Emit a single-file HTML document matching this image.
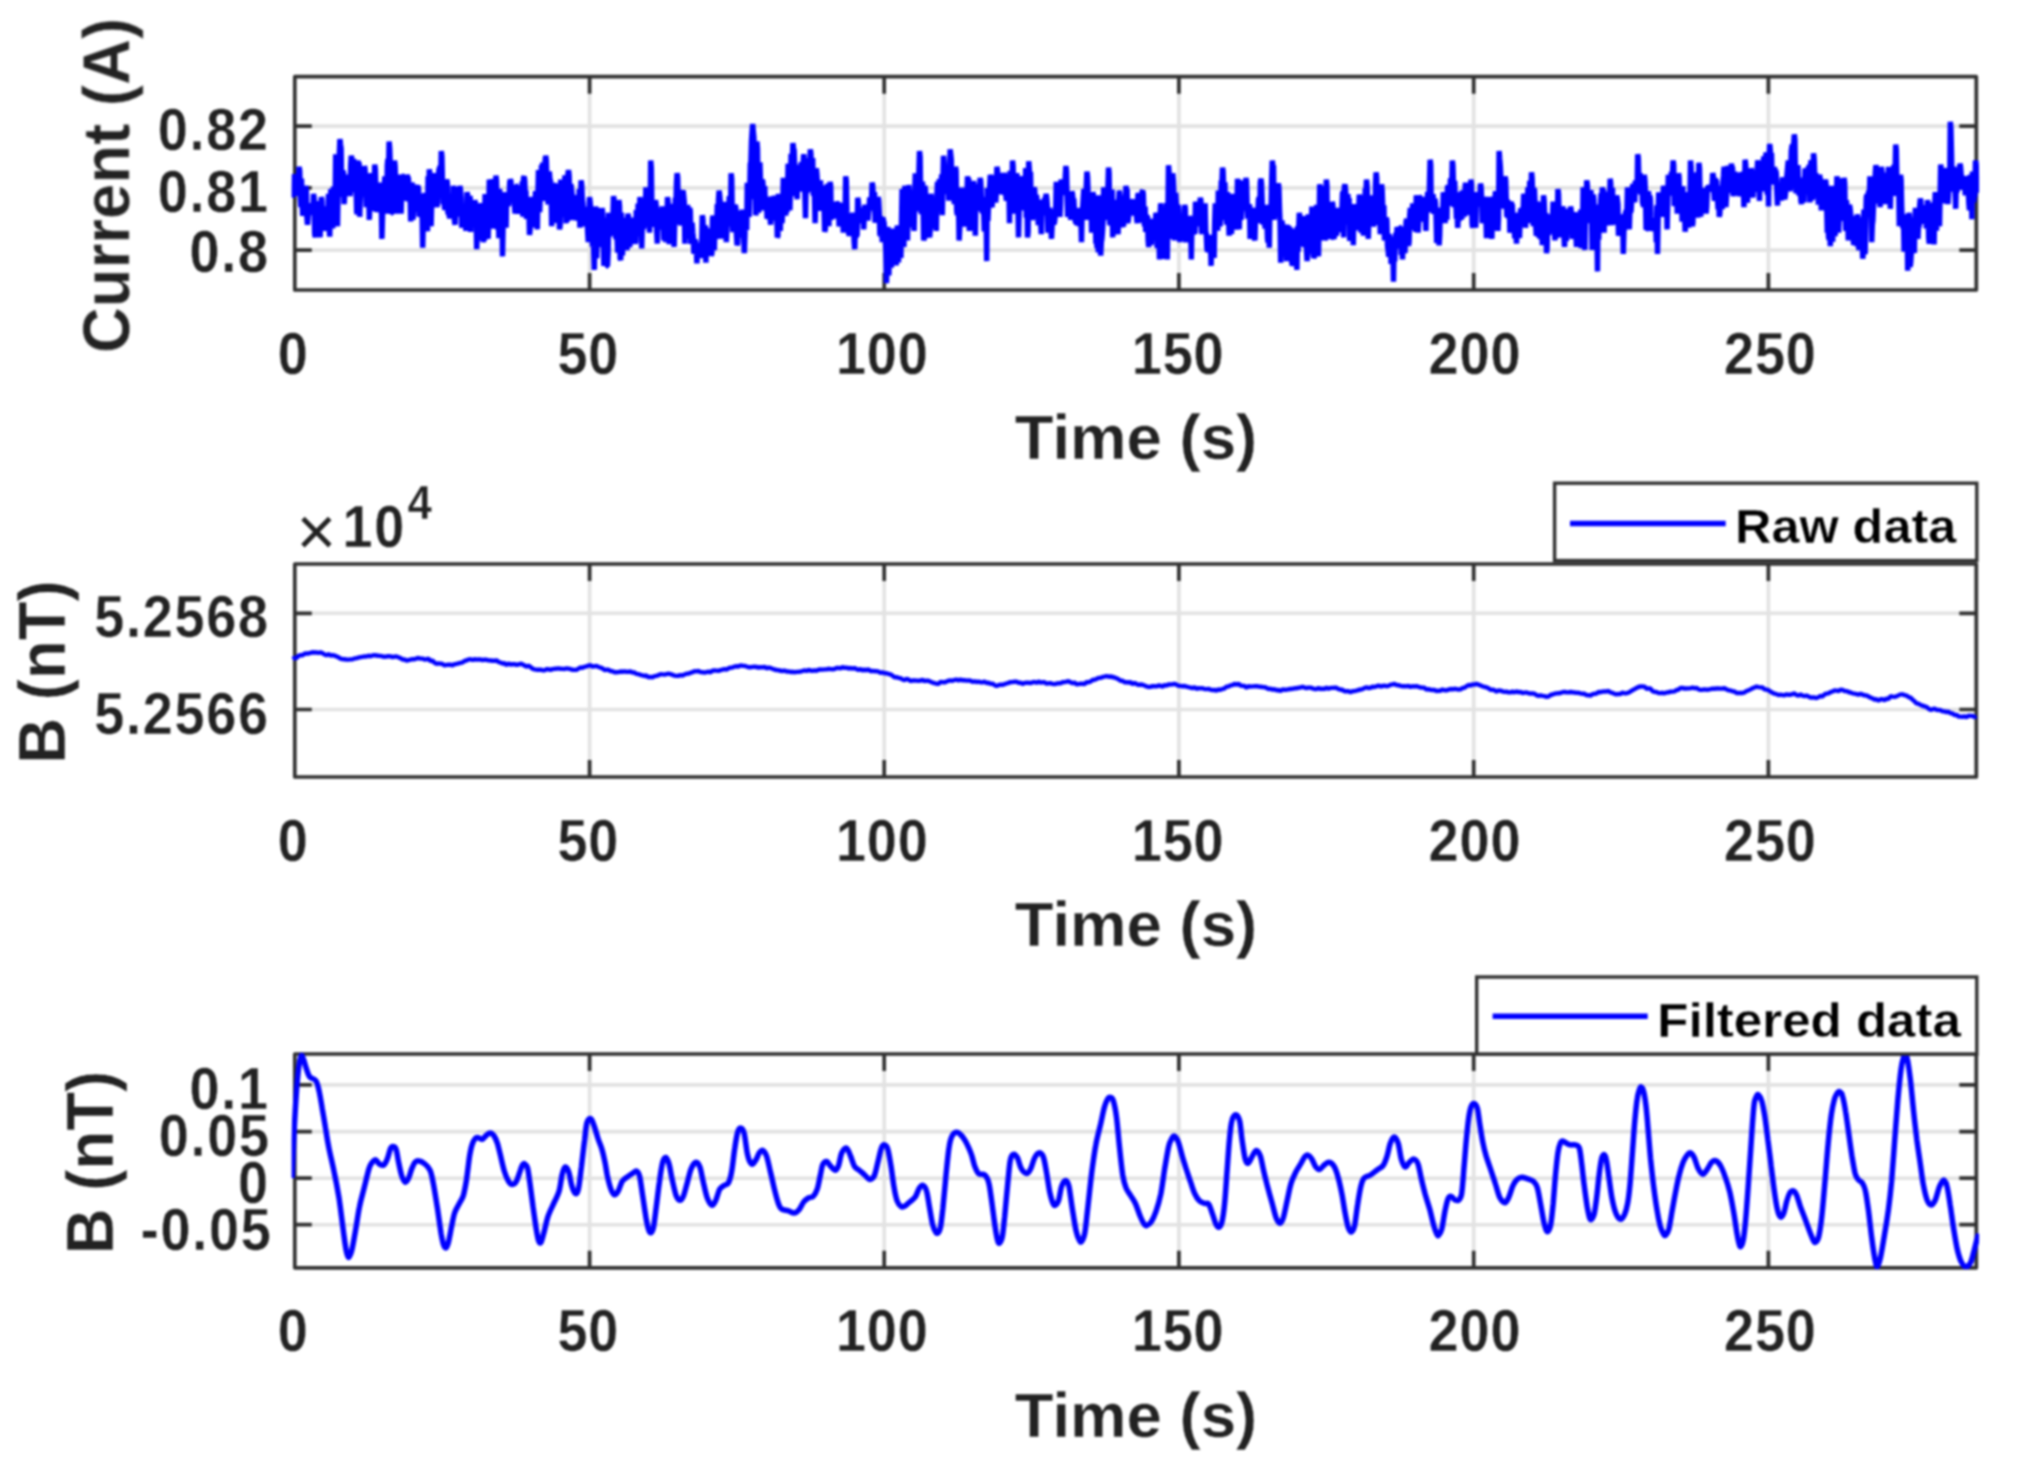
<!DOCTYPE html>
<html lang="en"><head><meta charset="utf-8"><title>Current and magnetic field plots</title>
<style>html,body{margin:0;padding:0;background:#fff}body{width:2019px;height:1470px;overflow:hidden}svg{display:block}</style>
</head><body>
<svg width="2019" height="1470" viewBox="0 0 2019 1470">
<rect width="2019" height="1470" fill="#fff"/>
<defs><filter id="soft" color-interpolation-filters="sRGB" x="0" y="0" width="2019" height="1470" filterUnits="userSpaceOnUse"><feGaussianBlur stdDeviation="1.1"/></filter>
<clipPath id="c0"><rect x="291.6" y="75.2" width="1687.5" height="216.3"/></clipPath>
<clipPath id="c1"><rect x="291.6" y="562.5" width="1687.5" height="216.0"/></clipPath>
<clipPath id="c2"><rect x="291.6" y="1052.5" width="1687.5" height="216.8"/></clipPath>
</defs>
<g filter="url(#soft)">
<g>
<path d="M589.6 76.7V290.0M884.2 76.7V290.0M1178.9 76.7V290.0M1473.7 76.7V290.0M1768.4 76.7V290.0M294.8 126.1H1976.3M294.8 187.9H1976.3M294.8 250.1H1976.3" stroke="#e2e2e2" stroke-width="3.6" fill="none"/>
<path d="M294.8 76.7H1976.3V290.0H294.8ZM589.6 290.0v-17.0M589.6 76.7v17.0M884.2 290.0v-17.0M884.2 76.7v17.0M1178.9 290.0v-17.0M1178.9 76.7v17.0M1473.7 290.0v-17.0M1473.7 76.7v17.0M1768.4 290.0v-17.0M1768.4 76.7v17.0M294.8 126.1h17.0M1976.3 126.1h-17.0M294.8 187.9h17.0M1976.3 187.9h-17.0M294.8 250.1h17.0M1976.3 250.1h-17.0" stroke="#303030" stroke-width="3.7" fill="none" stroke-linejoin="round"/>
<path clip-path="url(#c0)" d="M292.5 197.6L293.1 193.1L293.7 189.2L294.3 174.1L294.9 188.7L295.5 188.3L296.1 184.8L296.7 193.7L297.3 195.5L297.9 177.4L298.5 176.0L299.1 166.8L299.7 170.9L300.3 197.6L300.9 207.2L301.5 178.5L302.1 201.4L302.7 215.8L303.3 201.1L303.9 193.0L304.5 213.4L305.1 202.0L305.7 185.9L306.3 189.7L306.9 217.0L307.5 224.7L308.1 217.4L308.7 203.1L309.3 207.0L309.9 203.5L310.5 208.1L311.1 206.0L311.7 209.9L312.3 208.8L312.9 215.1L313.5 193.8L314.1 198.1L314.7 233.8L315.3 237.4L315.9 229.5L316.5 215.3L317.1 201.2L317.7 212.1L318.3 217.0L318.9 229.5L319.5 206.1L320.1 237.4L320.7 218.5L321.3 197.0L321.9 201.0L322.5 221.2L323.1 225.5L323.7 230.7L324.3 224.6L324.9 221.8L325.5 217.8L326.1 230.7L326.7 206.3L327.3 211.4L327.9 218.8L328.5 193.8L329.1 228.1L329.7 236.6L330.3 210.8L330.9 189.0L331.5 193.8L332.1 198.1L332.7 228.5L333.3 186.9L333.9 188.7L334.5 204.2L335.1 203.5L335.7 154.2L336.3 161.4L336.9 209.8L337.5 226.3L338.1 188.7L338.7 162.1L339.3 155.2L339.9 139.1L340.5 144.3L341.1 148.9L341.7 191.4L342.3 196.8L342.9 170.6L343.5 173.5L344.1 204.1L344.7 193.9L345.3 174.8L345.9 177.7L346.5 181.6L347.1 182.3L347.7 196.2L348.3 175.1L348.9 181.2L349.5 183.2L350.1 196.2L350.7 165.1L351.3 155.7L351.9 159.8L352.5 189.7L353.1 181.8L353.7 159.0L354.3 169.3L354.9 192.2L355.5 185.8L356.1 184.6L356.7 212.0L357.3 214.0L357.9 160.5L358.5 166.1L359.1 162.3L359.7 216.8L360.3 195.5L360.9 185.1L361.5 195.1L362.1 195.3L362.7 187.1L363.3 195.5L363.9 189.8L364.5 166.0L365.1 170.2L365.7 191.2L366.3 207.2L366.9 180.1L367.5 190.3L368.1 187.0L368.7 191.0L369.3 219.9L369.9 203.8L370.5 173.2L371.1 177.9L371.7 204.8L372.3 181.0L372.9 186.3L373.5 210.7L374.1 203.9L374.7 164.5L375.3 169.2L375.9 190.5L376.5 212.0L377.1 209.1L377.7 207.8L378.3 206.7L378.9 186.1L379.5 193.9L380.1 182.7L380.7 188.3L381.3 200.1L381.9 238.9L382.5 216.3L383.1 194.1L383.7 191.4L384.3 185.9L384.9 176.3L385.5 180.1L386.1 197.8L386.7 213.6L387.3 165.4L387.9 159.1L388.5 173.9L389.1 141.5L389.7 148.7L390.3 166.7L390.9 213.6L391.5 212.6L392.1 212.7L392.7 212.7L393.3 191.0L393.9 201.6L394.5 160.5L395.1 165.8L395.7 185.6L396.3 213.6L396.9 181.4L397.5 199.2L398.1 197.0L398.7 196.3L399.3 174.8L399.9 178.6L400.5 177.8L401.1 213.6L401.7 192.4L402.3 193.2L402.9 190.1L403.5 176.0L404.1 175.8L404.7 186.9L405.3 200.2L405.9 199.3L406.5 181.3L407.1 174.8L407.7 177.2L408.3 177.3L408.9 186.8L409.5 193.4L410.1 192.7L410.7 221.5L411.3 201.1L411.9 182.7L412.5 186.6L413.1 219.7L413.7 188.2L414.3 195.7L414.9 211.9L415.5 189.5L416.1 190.7L416.7 187.6L417.3 186.8L417.9 185.9L418.5 188.8L419.1 216.4L419.7 215.2L420.3 212.5L420.9 193.5L421.5 210.7L422.1 212.4L422.7 247.7L423.3 221.2L423.9 200.1L424.5 204.9L425.1 193.0L425.7 199.7L426.3 214.0L426.9 214.5L427.5 231.3L428.1 176.3L428.7 200.6L429.3 169.2L429.9 174.9L430.5 205.4L431.1 226.3L431.7 201.8L432.3 202.2L432.9 182.2L433.5 183.1L434.1 188.4L434.7 183.7L435.3 173.2L435.9 176.6L436.5 202.7L437.1 207.2L437.7 188.5L438.3 182.1L438.9 169.9L439.5 168.2L440.1 166.3L440.7 181.6L441.3 151.0L441.9 156.3L442.5 184.9L443.1 204.1L443.7 183.1L444.3 205.6L444.9 210.0L445.5 187.0L446.1 191.8L446.7 179.5L447.3 182.9L447.9 213.2L448.5 213.6L449.1 214.4L449.7 218.4L450.3 200.0L450.9 200.1L451.5 203.3L452.1 215.3L452.7 205.6L453.3 185.9L453.9 189.7L454.5 221.0L455.1 224.7L455.7 197.9L456.3 186.7L456.9 216.3L457.5 213.2L458.1 196.3L458.7 199.0L459.3 200.1L459.9 185.9L460.5 190.1L461.1 198.0L461.7 227.8L462.3 216.3L462.9 208.8L463.5 215.5L464.1 215.3L464.7 211.1L465.3 211.0L465.9 231.0L466.5 212.3L467.1 192.2L467.7 196.1L468.3 220.6L468.9 217.4L469.5 207.0L470.1 195.7L470.7 232.0L471.3 205.8L471.9 204.9L472.5 219.8L473.1 221.9L473.7 226.1L474.3 220.3L474.9 200.1L475.5 205.0L476.1 213.3L476.7 249.2L477.3 231.8L477.9 240.2L478.5 223.3L479.1 219.6L479.7 219.9L480.3 203.3L480.9 211.0L481.5 203.3L482.1 207.2L482.7 220.3L483.3 242.1L483.9 238.8L484.5 240.2L485.1 194.1L485.7 213.9L486.3 199.5L486.9 219.7L487.5 216.0L488.1 238.9L488.7 218.1L489.3 179.5L489.9 185.5L490.5 179.7L491.1 181.3L491.7 188.8L492.3 195.5L492.9 187.5L493.5 228.6L494.1 205.1L494.7 224.3L495.3 200.8L495.9 175.6L496.5 180.9L497.1 213.4L497.7 229.4L498.3 213.5L498.9 238.2L499.5 189.1L500.1 195.8L500.7 217.4L501.3 214.6L501.9 194.4L502.5 256.4L503.1 226.1L503.7 192.2L504.3 198.6L504.9 200.3L505.5 204.6L506.1 227.8L506.7 192.8L507.3 196.8L507.9 205.0L508.5 205.7L509.1 200.2L509.7 182.5L510.3 179.5L510.9 181.2L511.5 190.7L512.1 196.2L512.7 191.4L513.3 187.5L513.9 191.8L514.5 205.0L515.1 213.6L515.7 185.6L516.3 185.9L516.9 188.6L517.5 205.9L518.1 213.8L518.7 194.7L519.3 199.6L519.9 203.3L520.5 211.0L521.1 210.3L521.7 190.7L522.3 181.5L522.9 216.8L523.5 177.9L524.1 176.3L524.7 180.4L525.3 195.0L525.9 190.5L526.5 219.0L527.1 210.7L527.7 203.1L528.3 215.0L528.9 210.5L529.5 235.0L530.1 229.8L530.7 197.0L531.3 200.8L531.9 220.0L532.5 227.3L533.1 221.0L533.7 211.7L534.3 199.9L534.9 210.2L535.5 191.1L536.1 212.5L536.7 205.7L537.3 229.4L537.9 193.9L538.5 170.0L539.1 175.9L539.7 212.1L540.3 193.4L540.9 189.0L541.5 165.0L542.1 184.2L542.7 162.6L543.3 197.7L543.9 182.2L544.5 200.9L545.1 161.1L545.7 155.7L546.3 160.3L546.9 181.0L547.5 190.4L548.1 204.3L548.7 200.7L549.3 171.5L549.9 179.3L550.5 180.9L551.1 185.9L551.7 226.3L552.3 184.1L552.9 185.9L553.5 189.9L554.1 210.7L554.7 202.4L555.3 222.9L555.9 184.9L556.5 184.2L557.1 205.3L557.7 201.4L558.3 191.0L558.9 213.3L559.5 229.4L560.1 225.7L560.7 179.5L561.3 184.5L561.9 206.4L562.5 203.9L563.1 216.9L563.7 196.3L564.3 205.2L564.9 175.3L565.5 205.6L566.1 223.3L566.7 201.3L567.3 221.5L567.9 174.4L568.5 170.0L569.1 175.2L569.7 198.6L570.3 205.6L570.9 184.1L571.5 189.1L572.1 194.2L572.7 220.0L573.3 206.9L573.9 219.9L574.5 209.6L575.1 195.4L575.7 197.8L576.3 195.5L576.9 198.6L577.5 220.7L578.1 210.9L578.7 202.3L579.3 189.1L579.9 227.8L580.5 204.4L581.1 180.3L581.7 185.1L582.3 199.4L582.9 203.8L583.5 219.1L584.1 214.0L584.7 226.3L585.3 211.0L585.9 207.0L586.5 219.4L587.1 218.8L587.7 232.5L588.3 242.1L588.9 219.5L589.5 197.0L590.1 201.5L590.7 209.2L591.3 221.0L591.9 221.4L592.5 246.8L593.1 225.6L593.7 249.4L594.3 269.9L594.9 232.0L595.5 206.5L596.1 212.8L596.7 258.4L597.3 207.8L597.9 233.3L598.5 239.8L599.1 235.6L599.7 211.1L600.3 244.8L600.9 208.7L601.5 247.3L602.1 208.0L602.7 213.8L603.3 237.5L603.9 265.9L604.5 231.1L605.1 217.6L605.7 222.3L606.3 226.7L606.9 265.9L607.5 265.9L608.1 252.7L608.7 212.7L609.3 222.5L609.9 234.8L610.5 234.6L611.1 218.6L611.7 217.7L612.3 217.6L612.9 218.0L613.5 196.2L614.1 199.8L614.7 203.2L615.3 232.6L615.9 238.9L616.5 212.5L617.1 237.6L617.7 252.6L618.3 236.8L618.9 200.1L619.5 206.1L620.1 258.3L620.7 260.3L621.3 212.7L621.9 233.9L622.5 255.5L623.1 227.2L623.7 237.6L624.3 219.4L624.9 218.8L625.5 235.7L626.1 230.4L626.7 250.0L627.3 247.0L627.9 213.6L628.5 217.2L629.1 231.1L629.7 247.2L630.3 231.7L630.9 227.1L631.5 234.3L632.1 244.2L632.7 228.8L633.3 228.0L633.9 217.6L634.5 220.0L635.1 242.8L635.7 242.1L636.3 210.0L636.9 225.9L637.5 232.6L638.1 203.5L638.7 212.5L639.3 236.3L639.9 197.0L640.5 202.1L641.1 223.5L641.7 248.5L642.3 223.8L642.9 219.4L643.5 229.2L644.1 207.5L644.7 223.1L645.3 220.8L645.9 187.4L646.5 191.0L647.1 194.4L647.7 189.0L648.3 226.9L648.9 214.5L649.5 232.6L650.1 220.1L650.7 160.5L651.3 167.7L651.9 209.2L652.5 207.8L653.1 226.3L653.7 202.5L654.3 218.0L654.9 226.7L655.5 200.1L656.1 204.5L656.7 229.9L657.3 243.7L657.9 223.8L658.5 223.9L659.1 218.0L659.7 229.4L660.3 223.9L660.9 208.4L661.5 219.1L662.1 206.5L662.7 209.9L663.3 214.9L663.9 240.5L664.5 231.2L665.1 231.4L665.7 242.1L666.3 221.1L666.9 229.6L667.5 197.0L668.1 201.6L668.7 240.1L669.3 243.7L669.9 235.4L670.5 217.7L671.1 232.8L671.7 214.9L672.3 208.0L672.9 211.9L673.5 203.9L674.1 246.9L674.7 221.2L675.3 197.9L675.9 207.9L676.5 183.1L677.1 173.2L677.7 177.5L678.3 206.8L678.9 216.8L679.5 224.2L680.1 198.9L680.7 225.5L681.3 213.0L681.9 220.7L682.5 192.1L683.1 190.6L683.7 195.9L684.3 202.5L684.9 243.7L685.5 214.4L686.1 208.2L686.7 221.4L687.3 205.6L687.9 207.0L688.5 238.9L689.1 216.5L689.7 208.0L690.3 211.1L690.9 243.9L691.5 238.9L692.1 222.7L692.7 232.2L693.3 238.1L693.9 253.7L694.5 252.0L695.1 239.7L695.7 242.1L696.3 246.9L696.9 263.5L697.5 248.7L698.1 255.8L698.7 249.0L699.3 253.6L699.9 243.2L700.5 248.4L701.1 258.0L701.7 245.4L702.3 215.2L702.9 219.5L703.5 234.1L704.1 236.6L704.7 246.2L705.3 225.3L705.9 262.7L706.5 229.0L707.1 230.2L707.7 233.5L708.3 250.7L708.9 246.3L709.5 241.9L710.1 241.6L710.7 249.4L711.3 255.8L711.9 253.2L712.5 218.5L713.1 216.0L713.7 219.7L714.3 250.3L714.9 226.1L715.5 222.1L716.1 231.0L716.7 227.8L717.3 204.1L717.9 238.9L718.5 199.8L719.1 190.6L719.7 195.4L720.3 202.4L720.9 211.7L721.5 238.7L722.1 220.0L722.7 209.2L723.3 214.1L723.9 231.0L724.5 206.5L725.1 210.0L725.7 201.7L726.3 242.1L726.9 228.1L727.5 213.5L728.1 204.6L728.7 212.8L729.3 196.2L729.9 226.3L730.5 215.3L731.1 173.2L731.7 178.5L732.3 216.1L732.9 232.1L733.5 223.6L734.1 225.0L734.7 206.2L735.3 204.9L735.9 208.9L736.5 235.6L737.1 245.3L737.7 242.7L738.3 220.5L738.9 237.6L739.5 210.6L740.1 221.4L740.7 235.2L741.3 235.4L741.9 230.7L742.5 209.6L743.1 214.0L743.7 236.1L744.3 253.2L744.9 235.6L745.5 213.3L746.1 226.3L746.7 229.9L747.3 182.7L747.9 187.0L748.5 188.5L749.1 217.0L749.7 193.1L750.3 163.9L750.9 162.2L751.5 141.2L752.1 131.7L752.7 124.0L753.3 131.6L753.9 137.8L754.5 199.3L755.1 152.9L755.7 215.2L756.3 211.6L756.9 141.5L757.5 148.8L758.1 196.5L758.7 212.8L759.3 177.1L759.9 162.4L760.5 181.3L761.1 184.7L761.7 199.4L762.3 179.5L762.9 182.6L763.5 194.1L764.1 210.4L764.7 186.0L765.3 203.4L765.9 208.3L766.5 198.9L767.1 218.6L767.7 217.4L768.3 214.6L768.9 197.0L769.5 199.7L770.1 218.3L770.7 224.7L771.3 214.0L771.9 196.4L772.5 208.0L773.1 203.7L773.7 199.3L774.3 217.8L774.9 195.5L775.5 220.6L776.1 207.9L776.7 198.9L777.3 237.4L777.9 236.1L778.5 193.8L779.1 198.1L779.7 225.0L780.3 230.9L780.9 199.8L781.5 200.6L782.1 223.1L782.7 208.7L783.3 177.9L783.9 182.4L784.5 206.5L785.1 206.9L785.7 215.5L786.3 203.2L786.9 212.3L787.5 197.9L788.1 163.7L788.7 168.3L789.3 194.5L789.9 210.4L790.5 184.5L791.1 153.8L791.7 196.2L792.3 163.5L792.9 143.1L793.5 148.4L794.1 150.1L794.7 168.1L795.3 169.2L795.9 175.1L796.5 180.9L797.1 199.3L797.7 167.1L798.3 166.8L798.9 170.1L799.5 180.2L800.1 181.8L800.7 174.3L801.3 162.1L801.9 191.6L802.5 175.0L803.1 163.9L803.7 154.2L804.3 160.6L804.9 194.8L805.5 218.3L806.1 182.3L806.7 192.5L807.3 190.2L807.9 158.3L808.5 168.2L809.1 163.0L809.7 172.4L810.3 149.4L810.9 153.6L811.5 187.0L812.1 191.4L812.7 158.0L813.3 195.6L813.9 189.0L814.5 195.3L815.1 223.1L815.7 195.1L816.3 168.4L816.9 173.9L817.5 183.5L818.1 199.3L818.7 200.4L819.3 210.8L819.9 202.2L820.5 180.4L821.1 210.2L821.7 195.4L822.3 187.1L822.9 185.9L823.5 190.5L824.1 208.9L824.7 231.8L825.3 229.1L825.9 206.0L826.5 197.9L827.1 195.1L827.7 183.8L828.3 188.1L828.9 226.3L829.5 197.1L830.1 181.9L830.7 186.3L831.3 219.9L831.9 203.5L832.5 206.2L833.1 212.3L833.7 201.9L834.3 205.0L834.9 218.5L835.5 214.6L836.1 204.0L836.7 202.7L837.3 203.3L837.9 205.6L838.5 205.0L839.1 226.3L839.7 221.7L840.3 218.9L840.9 205.0L841.5 204.9L842.1 207.6L842.7 213.2L843.3 232.6L843.9 206.8L844.5 223.1L845.1 213.2L845.7 176.3L846.3 181.0L846.9 211.4L847.5 218.2L848.1 223.2L848.7 233.4L849.3 235.6L849.9 231.7L850.5 218.2L851.1 230.9L851.7 221.8L852.3 217.6L852.9 212.8L853.5 216.4L854.1 241.1L854.7 249.2L855.3 227.3L855.9 230.1L856.5 235.8L857.1 235.5L857.7 197.7L858.3 201.5L858.9 213.7L859.5 216.6L860.1 207.7L860.7 214.6L861.3 223.1L861.9 219.3L862.5 220.6L863.1 211.7L863.7 229.4L864.3 213.9L864.9 204.9L865.5 207.3L866.1 212.9L866.7 217.4L867.3 212.4L867.9 220.6L868.5 212.9L869.1 209.0L869.7 197.5L870.3 204.3L870.9 208.2L871.5 202.6L872.1 182.7L872.7 185.5L873.3 198.4L873.9 210.4L874.5 192.0L875.1 222.8L875.7 210.4L876.3 212.2L876.9 208.1L877.5 213.4L878.1 197.0L878.7 200.8L879.3 213.2L879.9 235.8L880.5 216.2L881.1 236.8L881.7 222.6L882.3 242.1L882.9 217.4L883.5 220.7L884.1 222.9L884.7 233.2L885.3 236.1L885.9 253.0L886.5 283.3L887.1 251.7L887.7 227.1L888.3 232.7L888.9 275.5L889.5 233.6L890.1 258.1L890.7 249.3L891.3 267.5L891.9 258.4L892.5 228.6L893.1 232.5L893.7 238.0L894.3 251.4L894.9 262.1L895.5 237.8L896.1 265.1L896.7 259.2L897.3 225.5L897.9 229.4L898.5 262.5L899.1 237.9L899.7 231.5L900.3 237.5L900.9 258.0L901.5 223.9L902.1 189.0L902.7 195.9L903.3 240.9L903.9 246.9L904.5 189.0L905.1 185.9L905.7 192.0L906.3 223.8L906.9 222.7L907.5 240.5L908.1 193.1L908.7 185.1L909.3 190.6L909.9 199.6L910.5 199.0L911.1 223.2L911.7 205.9L912.3 190.5L912.9 227.4L913.5 214.0L914.1 231.0L914.7 195.3L915.3 173.2L915.9 179.0L916.5 199.7L917.1 208.8L917.7 209.6L918.3 210.4L918.9 171.8L919.5 151.0L920.1 156.9L920.7 202.0L921.3 214.2L921.9 192.2L922.5 181.6L923.1 204.6L923.7 240.5L924.3 237.8L924.9 185.9L925.5 191.3L926.1 230.0L926.7 207.4L927.3 209.0L927.9 211.9L928.5 224.1L929.1 234.7L929.7 237.4L930.3 227.9L930.9 193.8L931.5 198.1L932.1 212.5L932.7 228.7L933.3 207.0L933.9 210.4L934.5 214.4L935.1 221.7L935.7 201.3L936.3 231.0L936.9 195.7L937.5 181.9L938.1 186.8L938.7 211.6L939.3 179.4L939.9 180.5L940.5 202.8L941.1 186.1L941.7 174.4L942.3 215.2L942.9 183.5L943.5 155.7L944.1 161.7L944.7 173.9L945.3 182.2L945.9 184.7L946.5 193.3L947.1 170.4L947.7 194.1L948.3 185.2L948.9 200.6L949.5 182.9L950.1 149.4L950.7 154.2L951.3 160.1L951.9 197.7L952.5 177.9L953.1 191.2L953.7 184.3L954.3 204.1L954.9 194.5L955.5 166.8L956.1 170.6L956.7 210.6L957.3 215.2L957.9 193.9L958.5 201.5L959.1 240.5L959.7 228.5L960.3 189.0L960.9 194.2L961.5 187.6L962.1 203.1L962.7 187.9L963.3 196.9L963.9 201.3L964.5 214.4L965.1 226.4L965.7 221.4L966.3 211.8L966.9 199.6L967.5 176.3L968.1 181.8L968.7 178.1L969.3 231.0L969.9 212.1L970.5 191.2L971.1 207.1L971.7 230.4L972.3 206.1L972.9 206.0L973.5 181.1L974.1 186.6L974.7 196.2L975.3 235.8L975.9 196.6L976.5 190.0L977.1 210.9L977.7 199.2L978.3 207.7L978.9 184.1L979.5 193.4L980.1 177.9L980.7 181.3L981.3 196.4L981.9 212.0L982.5 212.1L983.1 210.0L983.7 211.6L984.3 231.5L984.9 197.0L985.5 203.4L986.1 206.0L986.7 261.1L987.3 187.9L987.9 220.8L988.5 206.1L989.1 206.1L989.7 187.0L990.3 174.8L990.9 178.0L991.5 205.9L992.1 207.2L992.7 186.7L993.3 186.1L993.9 199.8L994.5 181.0L995.1 175.3L995.7 202.5L996.3 193.2L996.9 166.8L997.5 170.4L998.1 187.6L998.7 185.4L999.3 182.5L999.9 191.3L1000.5 189.3L1001.1 172.8L1001.7 193.9L1002.3 188.1L1002.9 194.6L1003.5 181.3L1004.1 173.2L1004.7 175.3L1005.3 183.0L1005.9 195.8L1006.5 200.7L1007.1 188.2L1007.7 176.3L1008.3 181.0L1008.9 187.4L1009.5 223.1L1010.1 170.8L1010.7 187.1L1011.3 196.8L1011.9 197.6L1012.5 160.5L1013.1 165.8L1013.7 193.0L1014.3 213.6L1014.9 205.1L1015.5 182.7L1016.1 189.6L1016.7 173.2L1017.3 179.6L1017.9 200.2L1018.5 237.4L1019.1 213.4L1019.7 177.0L1020.3 185.9L1020.9 196.7L1021.5 176.3L1022.1 179.8L1022.7 200.2L1023.3 210.4L1023.9 194.4L1024.5 192.7L1025.1 199.5L1025.7 168.0L1026.3 217.6L1026.9 182.3L1027.5 237.4L1028.1 232.3L1028.7 161.3L1029.3 168.9L1029.9 188.1L1030.5 171.9L1031.1 202.7L1031.7 196.6L1032.3 220.0L1032.9 213.6L1033.5 205.6L1034.1 187.4L1034.7 190.1L1035.3 202.2L1035.9 204.8L1036.5 195.1L1037.1 202.0L1037.7 209.8L1038.3 225.1L1038.9 220.4L1039.5 203.3L1040.1 206.4L1040.7 222.8L1041.3 234.2L1041.9 209.3L1042.5 199.7L1043.1 202.4L1043.7 202.2L1044.3 215.4L1044.9 197.4L1045.5 201.1L1046.1 193.8L1046.7 197.7L1047.3 205.6L1047.9 232.6L1048.5 229.0L1049.1 230.5L1049.7 208.0L1050.3 211.1L1050.9 227.6L1051.5 238.9L1052.1 225.5L1052.7 213.3L1053.3 222.5L1053.9 224.2L1054.5 222.1L1055.1 216.8L1055.7 212.2L1056.3 181.9L1056.9 185.4L1057.5 195.8L1058.1 185.9L1058.7 199.2L1059.3 190.9L1059.9 216.8L1060.5 203.3L1061.1 179.5L1061.7 183.2L1062.3 181.6L1062.9 184.5L1063.5 184.3L1064.1 194.9L1064.7 190.9L1065.3 176.2L1065.9 166.0L1066.5 171.1L1067.1 195.9L1067.7 216.8L1068.3 204.2L1068.9 192.6L1069.5 194.4L1070.1 200.3L1070.7 219.9L1071.3 206.1L1071.9 191.4L1072.5 194.3L1073.1 201.2L1073.7 198.5L1074.3 208.5L1074.9 216.2L1075.5 222.8L1076.1 222.8L1076.7 223.8L1077.3 210.8L1077.9 222.3L1078.5 215.6L1079.1 226.1L1079.7 208.0L1080.3 211.5L1080.9 217.7L1081.5 242.1L1082.1 211.7L1082.7 207.1L1083.3 197.2L1083.9 189.0L1084.5 215.7L1085.1 196.5L1085.7 219.9L1086.3 186.5L1086.9 171.6L1087.5 176.4L1088.1 191.7L1088.7 198.7L1089.3 220.0L1089.9 204.8L1090.5 207.6L1091.1 210.1L1091.7 232.6L1092.3 197.5L1092.9 192.2L1093.5 196.2L1094.1 211.1L1094.7 224.6L1095.3 213.0L1095.9 243.7L1096.5 239.9L1097.1 248.0L1097.7 231.0L1098.3 252.3L1098.9 195.4L1099.5 201.4L1100.1 225.1L1100.7 255.6L1101.3 242.3L1101.9 238.8L1102.5 231.0L1103.1 220.4L1103.7 187.4L1104.3 191.8L1104.9 214.7L1105.5 198.9L1106.1 204.4L1106.7 205.2L1107.3 219.9L1107.9 188.0L1108.5 167.6L1109.1 172.9L1109.7 223.0L1110.3 224.9L1110.9 200.9L1111.5 211.5L1112.1 189.5L1112.7 237.4L1113.3 204.0L1113.9 200.1L1114.5 203.8L1115.1 216.8L1115.7 218.5L1116.3 207.0L1116.9 213.2L1117.5 225.5L1118.1 234.2L1118.7 200.1L1119.3 190.6L1119.9 195.0L1120.5 198.1L1121.1 203.7L1121.7 227.3L1122.3 218.7L1122.9 216.5L1123.5 226.7L1124.1 212.1L1124.7 201.7L1125.3 220.7L1125.9 185.9L1126.5 189.6L1127.1 189.0L1127.7 223.1L1128.3 219.7L1128.9 213.9L1129.5 207.7L1130.1 214.7L1130.7 199.0L1131.3 208.4L1131.9 205.1L1132.5 200.1L1133.1 201.6L1133.7 211.6L1134.3 215.2L1134.9 208.3L1135.5 212.6L1136.1 207.9L1136.7 218.6L1137.3 223.1L1137.9 194.9L1138.5 193.8L1139.1 196.7L1139.7 215.0L1140.3 222.4L1140.9 217.2L1141.5 201.5L1142.1 191.5L1142.7 190.6L1143.3 194.2L1143.9 217.5L1144.5 226.3L1145.1 206.5L1145.7 231.9L1146.3 216.7L1146.9 216.1L1147.5 216.0L1148.1 240.0L1148.7 246.9L1149.3 240.2L1149.9 219.1L1150.5 221.9L1151.1 244.8L1151.7 236.8L1152.3 239.6L1152.9 237.7L1153.5 237.8L1154.1 220.7L1154.7 226.4L1155.3 225.5L1155.9 212.8L1156.5 216.0L1157.1 247.9L1157.7 245.3L1158.3 233.6L1158.9 235.5L1159.5 259.5L1160.1 215.6L1160.7 203.3L1161.3 208.9L1161.9 258.8L1162.5 252.0L1163.1 246.1L1163.7 216.6L1164.3 227.3L1164.9 238.0L1165.5 223.9L1166.1 227.5L1166.7 203.1L1167.3 259.5L1167.9 214.4L1168.5 165.3L1169.1 172.6L1169.7 212.3L1170.3 238.9L1170.9 208.8L1171.5 220.3L1172.1 230.2L1172.7 173.2L1173.3 179.9L1173.9 195.0L1174.5 240.5L1175.1 211.6L1175.7 193.0L1176.3 203.7L1176.9 214.0L1177.5 236.5L1178.1 204.9L1178.7 208.6L1179.3 232.5L1179.9 242.1L1180.5 226.0L1181.1 234.7L1181.7 228.2L1182.3 225.2L1182.9 230.6L1183.5 240.5L1184.1 222.4L1184.7 204.9L1185.3 208.4L1185.9 242.5L1186.5 227.1L1187.1 230.4L1187.7 227.5L1188.3 221.3L1188.9 240.4L1189.5 216.0L1190.1 220.3L1190.7 224.6L1191.3 259.5L1191.9 225.2L1192.5 220.2L1193.1 234.9L1193.7 217.2L1194.3 231.0L1194.9 233.9L1195.5 201.7L1196.1 204.6L1196.7 219.1L1197.3 207.0L1197.9 216.1L1198.5 204.2L1199.1 226.3L1199.7 207.1L1200.3 197.7L1200.9 200.6L1201.5 231.1L1202.1 233.9L1202.7 214.8L1203.3 226.1L1203.9 218.3L1204.5 215.8L1205.1 203.3L1205.7 231.8L1206.3 233.8L1206.9 248.5L1207.5 251.6L1208.1 250.2L1208.7 251.9L1209.3 235.0L1209.9 238.1L1210.5 241.0L1211.1 265.9L1211.7 239.0L1212.3 243.4L1212.9 250.0L1213.5 243.5L1214.1 258.0L1214.7 222.8L1215.3 203.3L1215.9 208.8L1216.5 225.4L1217.1 208.2L1217.7 230.6L1218.3 190.6L1218.9 194.2L1219.5 204.5L1220.1 226.3L1220.7 205.5L1221.3 180.6L1221.9 183.3L1222.5 167.6L1223.1 171.3L1223.7 189.7L1224.3 204.1L1224.9 182.2L1225.5 219.9L1226.1 214.3L1226.7 224.6L1227.3 192.2L1227.9 196.6L1228.5 211.7L1229.1 235.8L1229.7 196.3L1230.3 217.8L1230.9 215.9L1231.5 234.2L1232.1 209.4L1232.7 193.8L1233.3 197.8L1233.9 204.0L1234.5 211.2L1235.1 225.9L1235.7 198.0L1236.3 229.7L1236.9 212.1L1237.5 178.7L1238.1 183.8L1238.7 180.1L1239.3 229.4L1239.9 197.3L1240.5 193.1L1241.1 219.9L1241.7 210.1L1242.3 181.1L1242.9 185.0L1243.5 180.5L1244.1 203.5L1244.7 210.4L1245.3 192.7L1245.9 177.9L1246.5 181.2L1247.1 203.0L1247.7 218.6L1248.3 214.9L1248.9 205.6L1249.5 204.3L1250.1 238.9L1250.7 209.2L1251.3 208.0L1251.9 211.1L1252.5 225.1L1253.1 231.5L1253.7 225.7L1254.3 237.4L1254.9 240.5L1255.5 218.4L1256.1 208.0L1256.7 211.3L1257.3 213.3L1257.9 212.6L1258.5 199.0L1259.1 197.9L1259.7 223.1L1260.3 182.4L1260.9 178.7L1261.5 183.2L1262.1 199.5L1262.7 224.5L1263.3 221.7L1263.9 209.0L1264.5 217.9L1265.1 228.7L1265.7 204.9L1266.3 208.3L1266.9 220.4L1267.5 238.9L1268.1 242.5L1268.7 220.9L1269.3 247.7L1269.9 210.6L1270.5 204.9L1271.1 209.2L1271.7 179.7L1272.3 160.5L1272.9 166.4L1273.5 165.2L1274.1 219.9L1274.7 198.1L1275.3 198.3L1275.9 214.5L1276.5 197.8L1277.1 216.9L1277.7 187.4L1278.3 183.5L1278.9 187.4L1279.5 209.4L1280.1 223.1L1280.7 262.7L1281.3 252.9L1281.9 220.7L1282.5 224.9L1283.1 243.6L1283.7 231.6L1284.3 244.3L1284.9 249.5L1285.5 241.5L1286.1 224.6L1286.7 261.1L1287.3 246.2L1287.9 225.5L1288.5 229.0L1289.1 238.2L1289.7 226.8L1290.3 242.4L1290.9 247.4L1291.5 258.0L1292.1 265.5L1292.7 242.6L1293.3 266.1L1293.9 252.6L1294.5 256.9L1295.1 228.6L1295.7 232.8L1296.3 234.3L1296.9 269.9L1297.5 226.3L1298.1 251.6L1298.7 229.7L1299.3 212.8L1299.9 216.7L1300.5 236.7L1301.1 229.4L1301.7 245.1L1302.3 244.7L1302.9 228.5L1303.5 245.6L1304.1 231.2L1304.7 238.8L1305.3 216.0L1305.9 220.5L1306.5 249.0L1307.1 261.1L1307.7 251.5L1308.3 214.4L1308.9 250.5L1309.5 246.0L1310.1 215.3L1310.7 236.9L1311.3 229.9L1311.9 206.5L1312.5 211.6L1313.1 252.5L1313.7 258.0L1314.3 256.4L1314.9 239.2L1315.5 229.6L1316.1 251.9L1316.7 204.9L1317.3 210.0L1317.9 244.0L1318.5 256.4L1319.1 220.9L1319.7 184.3L1320.3 189.9L1320.9 203.6L1321.5 240.5L1322.1 196.0L1322.7 186.1L1323.3 226.2L1323.9 207.4L1324.5 216.5L1325.1 240.5L1325.7 233.1L1326.3 179.5L1326.9 185.6L1327.5 234.8L1328.1 228.6L1328.7 204.9L1329.3 239.0L1329.9 231.2L1330.5 235.6L1331.1 218.8L1331.7 238.5L1332.3 201.7L1332.9 205.4L1333.5 237.8L1334.1 238.9L1334.7 229.8L1335.3 229.7L1335.9 230.0L1336.5 235.8L1337.1 218.9L1337.7 208.0L1338.3 210.8L1338.9 222.6L1339.5 218.2L1340.1 213.9L1340.7 232.4L1341.3 218.2L1341.9 210.1L1342.5 193.5L1343.1 191.6L1343.7 237.4L1344.3 187.6L1344.9 184.3L1345.5 189.6L1346.1 197.6L1346.7 206.2L1347.3 213.4L1347.9 194.1L1348.5 224.5L1349.1 198.0L1349.7 241.0L1350.3 207.1L1350.9 222.0L1351.5 204.9L1352.1 208.9L1352.7 214.9L1353.3 245.3L1353.9 204.0L1354.5 226.7L1355.1 217.3L1355.7 222.8L1356.3 230.2L1356.9 205.4L1357.5 207.8L1358.1 205.6L1358.7 211.9L1359.3 194.6L1359.9 198.4L1360.5 216.8L1361.1 232.6L1361.7 219.0L1362.3 226.9L1362.9 227.5L1363.5 235.5L1364.1 206.2L1364.7 213.2L1365.3 188.4L1365.9 194.6L1366.5 179.5L1367.1 185.5L1367.7 205.2L1368.3 238.9L1368.9 211.9L1369.5 216.7L1370.1 213.7L1370.7 206.4L1371.3 195.4L1371.9 198.5L1372.5 208.5L1373.1 226.3L1373.7 224.0L1374.3 207.0L1374.9 223.1L1375.5 184.4L1376.1 172.4L1376.7 177.5L1377.3 225.0L1377.9 211.4L1378.5 199.8L1379.1 209.7L1379.7 215.3L1380.3 234.2L1380.9 209.5L1381.5 184.3L1382.1 189.3L1382.7 205.9L1383.3 215.4L1383.9 205.3L1384.5 240.4L1385.1 236.3L1385.7 226.7L1386.3 217.6L1386.9 220.8L1387.5 245.8L1388.1 250.0L1388.7 256.8L1389.3 234.0L1389.9 241.6L1390.5 242.4L1391.1 263.9L1391.7 236.6L1392.3 241.1L1392.9 249.6L1393.5 281.7L1394.1 244.2L1394.7 261.3L1395.3 240.1L1395.9 233.1L1396.5 242.0L1397.1 227.1L1397.7 229.2L1398.3 238.6L1398.9 248.5L1399.5 240.1L1400.1 227.5L1400.7 227.5L1401.3 254.9L1401.9 233.9L1402.5 259.5L1403.1 233.0L1403.7 227.1L1404.3 230.3L1404.9 253.2L1405.5 238.2L1406.1 221.7L1406.7 218.8L1407.3 233.5L1407.9 239.8L1408.5 245.9L1409.1 242.1L1409.7 215.7L1410.3 208.0L1410.9 211.5L1411.5 223.4L1412.1 229.8L1412.7 203.3L1413.3 225.6L1413.9 226.8L1414.5 215.9L1415.1 209.6L1415.7 231.9L1416.3 195.4L1416.9 199.1L1417.5 213.4L1418.1 232.6L1418.7 222.8L1419.3 196.5L1419.9 197.0L1420.5 207.2L1421.1 214.4L1421.7 215.5L1422.3 201.5L1422.9 221.3L1423.5 219.7L1424.1 197.0L1424.7 200.4L1425.3 205.9L1425.9 231.0L1426.5 200.6L1427.1 201.5L1427.7 191.8L1428.3 200.2L1428.9 212.3L1429.5 182.8L1430.1 159.7L1430.7 164.5L1431.3 209.3L1431.9 207.2L1432.5 200.3L1433.1 194.0L1433.7 213.8L1434.3 209.6L1434.9 198.7L1435.5 203.3L1436.1 217.0L1436.7 243.0L1437.3 208.0L1437.9 211.8L1438.5 234.5L1439.1 245.3L1439.7 235.3L1440.3 208.5L1440.9 219.7L1441.5 219.9L1442.1 217.0L1442.7 214.3L1443.3 192.2L1443.9 195.3L1444.5 193.8L1445.1 223.1L1445.7 201.5L1446.3 201.5L1446.9 219.9L1447.5 187.2L1448.1 185.9L1448.7 189.3L1449.3 205.9L1449.9 190.4L1450.5 178.4L1451.1 203.1L1451.7 185.6L1452.3 160.5L1452.9 165.2L1453.5 184.8L1454.1 207.2L1454.7 180.9L1455.3 206.2L1455.9 203.1L1456.5 218.9L1457.1 211.6L1457.7 227.8L1458.3 217.1L1458.9 195.4L1459.5 198.6L1460.1 194.0L1460.7 193.4L1461.3 218.4L1461.9 218.7L1462.5 190.3L1463.1 205.2L1463.7 206.7L1464.3 216.8L1464.9 192.2L1465.5 182.7L1466.1 186.1L1466.7 193.6L1467.3 193.4L1467.9 189.9L1468.5 215.1L1469.1 193.6L1469.7 214.0L1470.3 213.3L1470.9 179.5L1471.5 184.3L1472.1 223.7L1472.7 227.8L1473.3 204.6L1473.9 216.0L1474.5 200.4L1475.1 213.0L1475.7 227.8L1476.3 198.2L1476.9 192.2L1477.5 195.8L1478.1 198.9L1478.7 200.4L1479.3 206.4L1479.9 197.8L1480.5 183.5L1481.1 187.4L1481.7 199.6L1482.3 223.1L1482.9 217.9L1483.5 210.0L1484.1 219.5L1484.7 197.0L1485.3 201.1L1485.9 215.8L1486.5 238.2L1487.1 208.7L1487.7 223.1L1488.3 226.3L1488.9 221.6L1489.5 197.0L1490.1 199.9L1490.7 220.6L1491.3 206.3L1491.9 238.9L1492.5 204.6L1493.1 201.7L1493.7 205.4L1494.3 230.1L1494.9 200.2L1495.5 191.3L1496.1 199.7L1496.7 199.0L1497.3 213.6L1497.9 231.0L1498.5 217.8L1499.1 151.0L1499.7 159.0L1500.3 166.5L1500.9 179.2L1501.5 192.7L1502.1 208.5L1502.7 205.4L1503.3 184.2L1503.9 176.7L1504.5 193.6L1505.1 176.3L1505.7 180.4L1506.3 200.4L1506.9 216.8L1507.5 208.6L1508.1 218.0L1508.7 202.0L1509.3 202.0L1509.9 232.6L1510.5 226.7L1511.1 201.7L1511.7 204.8L1512.3 204.2L1512.9 222.5L1513.5 223.7L1514.1 223.2L1514.7 238.4L1515.3 226.2L1515.9 225.0L1516.5 243.7L1517.1 226.6L1517.7 212.8L1518.3 215.9L1518.9 225.9L1519.5 238.2L1520.1 219.3L1520.7 208.3L1521.3 218.0L1521.9 210.7L1522.5 208.0L1523.1 214.4L1523.7 193.8L1524.3 197.2L1524.9 205.5L1525.5 227.8L1526.1 213.4L1526.7 221.5L1527.3 210.5L1527.9 187.4L1528.5 190.8L1529.1 210.8L1529.7 180.8L1530.3 223.1L1530.9 198.2L1531.5 172.4L1532.1 177.8L1532.7 198.5L1533.3 226.3L1533.9 188.0L1534.5 190.6L1535.1 205.0L1535.7 224.5L1536.3 235.8L1536.9 226.7L1537.5 201.7L1538.1 205.1L1538.7 237.4L1539.3 229.8L1539.9 234.1L1540.5 238.9L1541.1 219.0L1541.7 221.8L1542.3 245.3L1542.9 223.1L1543.5 195.4L1544.1 200.4L1544.7 215.6L1545.3 235.2L1545.9 213.1L1546.5 253.2L1547.1 248.1L1547.7 214.4L1548.3 218.3L1548.9 235.2L1549.5 221.2L1550.1 218.7L1550.7 232.5L1551.3 229.7L1551.9 217.0L1552.5 217.9L1553.1 201.7L1553.7 205.6L1554.3 216.8L1554.9 240.5L1555.5 225.6L1556.1 237.9L1556.7 218.0L1557.3 228.3L1557.9 189.0L1558.5 193.9L1559.1 219.1L1559.7 237.4L1560.3 229.4L1560.9 229.3L1561.5 226.2L1562.1 214.9L1562.7 206.5L1563.3 210.5L1563.9 233.8L1564.5 246.9L1565.1 231.0L1565.7 232.9L1566.3 241.2L1566.9 229.2L1567.5 219.5L1568.1 208.9L1568.7 221.8L1569.3 229.1L1569.9 220.3L1570.5 206.5L1571.1 209.7L1571.7 219.5L1572.3 238.9L1572.9 213.4L1573.5 233.5L1574.1 220.6L1574.7 215.2L1575.3 212.2L1575.9 234.2L1576.5 246.9L1577.1 222.1L1577.7 214.4L1578.3 217.6L1578.9 226.4L1579.5 219.6L1580.1 230.2L1580.7 209.6L1581.3 248.1L1581.9 231.4L1582.5 238.5L1583.1 187.4L1583.7 193.7L1584.3 240.4L1584.9 250.0L1585.5 207.4L1586.1 216.4L1586.7 180.3L1587.3 184.6L1587.9 198.2L1588.5 223.1L1589.1 214.8L1589.7 202.6L1590.3 216.2L1590.9 190.0L1591.5 212.4L1592.1 250.0L1592.7 236.4L1593.3 194.6L1593.9 200.1L1594.5 234.7L1595.1 234.6L1595.7 216.0L1596.3 221.5L1596.9 224.8L1597.5 271.4L1598.1 207.1L1598.7 239.9L1599.3 204.5L1599.9 208.1L1600.5 205.9L1601.1 193.5L1601.7 210.4L1602.3 187.4L1602.9 192.0L1603.5 189.4L1604.1 232.6L1604.7 198.9L1605.3 199.9L1605.9 201.2L1606.5 215.5L1607.1 220.5L1607.7 225.4L1608.3 191.9L1608.9 214.4L1609.5 212.7L1610.1 178.7L1610.7 183.2L1611.3 224.6L1611.9 223.1L1612.5 187.9L1613.1 224.6L1613.7 218.2L1614.3 215.6L1614.9 223.1L1615.5 208.5L1616.1 213.2L1616.7 195.4L1617.3 199.4L1617.9 204.0L1618.5 235.8L1619.1 231.9L1619.7 217.2L1620.3 225.2L1620.9 226.6L1621.5 214.4L1622.1 218.3L1622.7 220.3L1623.3 254.0L1623.9 231.5L1624.5 226.9L1625.1 214.8L1625.7 212.1L1626.3 210.5L1626.9 211.5L1627.5 187.4L1628.1 191.6L1628.7 203.9L1629.3 229.4L1629.9 209.0L1630.5 212.2L1631.1 210.7L1631.7 199.0L1632.3 188.0L1632.9 184.3L1633.5 186.1L1634.1 190.1L1634.7 202.5L1635.3 180.9L1635.9 181.8L1636.5 189.8L1637.1 189.6L1637.7 154.2L1638.3 157.7L1638.9 182.1L1639.5 177.5L1640.1 173.2L1640.7 194.5L1641.3 190.4L1641.9 181.9L1642.5 202.3L1643.1 204.6L1643.7 206.6L1644.3 174.8L1644.9 180.2L1645.5 193.7L1646.1 229.4L1646.7 229.0L1647.3 199.6L1647.9 211.0L1648.5 191.0L1649.1 209.2L1649.7 195.4L1650.3 198.9L1650.9 216.7L1651.5 231.0L1652.1 227.2L1652.7 222.7L1653.3 219.7L1653.9 227.3L1654.5 219.1L1655.1 221.4L1655.7 218.0L1656.3 242.1L1656.9 205.4L1657.5 254.0L1658.1 219.8L1658.7 192.2L1659.3 198.4L1659.9 208.0L1660.5 197.4L1661.1 203.7L1661.7 216.5L1662.3 213.6L1662.9 197.3L1663.5 185.9L1664.1 188.6L1664.7 213.5L1665.3 209.0L1665.9 193.5L1666.5 192.0L1667.1 229.4L1667.7 202.5L1668.3 174.8L1668.9 180.2L1669.5 192.7L1670.1 182.9L1670.7 195.7L1671.3 171.9L1671.9 178.4L1672.5 172.9L1673.1 160.5L1673.7 164.9L1674.3 206.0L1674.9 204.1L1675.5 190.7L1676.1 197.1L1676.7 189.5L1677.3 213.6L1677.9 200.9L1678.5 173.2L1679.1 177.2L1679.7 206.9L1680.3 192.2L1680.9 202.6L1681.5 189.1L1682.1 221.6L1682.7 186.2L1683.3 201.9L1683.9 212.7L1684.5 198.9L1685.1 231.8L1685.7 222.5L1686.3 192.2L1686.9 196.2L1687.5 205.8L1688.1 199.0L1688.7 227.6L1689.3 217.6L1689.9 206.6L1690.5 160.5L1691.1 167.1L1691.7 196.3L1692.3 226.3L1692.9 223.1L1693.5 195.3L1694.1 185.9L1694.7 189.6L1695.3 189.5L1695.9 188.8L1696.5 175.5L1697.1 172.6L1697.7 217.7L1698.3 194.2L1698.9 162.9L1699.5 168.3L1700.1 199.3L1700.7 216.8L1701.3 193.5L1701.9 198.6L1702.5 189.2L1703.1 204.7L1703.7 211.6L1704.3 189.0L1704.9 191.5L1705.5 188.3L1706.1 213.6L1706.7 206.6L1707.3 189.6L1707.9 186.2L1708.5 188.4L1709.1 185.3L1709.7 191.8L1710.3 184.9L1710.9 190.6L1711.5 186.0L1712.1 185.8L1712.7 173.2L1713.3 175.9L1713.9 192.7L1714.5 200.9L1715.1 177.9L1715.7 192.0L1716.3 179.8L1716.9 186.7L1717.5 199.5L1718.1 209.3L1718.7 198.2L1719.3 216.8L1719.9 213.1L1720.5 185.9L1721.1 188.9L1721.7 199.2L1722.3 209.1L1722.9 182.3L1723.5 175.5L1724.1 166.8L1724.7 170.9L1725.3 181.8L1725.9 207.2L1726.5 196.1L1727.1 184.0L1727.7 165.9L1728.3 182.7L1728.9 192.5L1729.5 170.9L1730.1 192.8L1730.7 179.5L1731.3 163.7L1731.9 166.9L1732.5 167.1L1733.1 196.2L1733.7 187.0L1734.3 195.1L1734.9 171.6L1735.5 182.2L1736.1 193.3L1736.7 193.1L1737.3 194.6L1737.9 187.4L1738.5 174.8L1739.1 176.7L1739.7 196.4L1740.3 172.8L1740.9 173.6L1741.5 177.0L1742.1 185.1L1742.7 188.5L1743.3 180.5L1743.9 207.2L1744.5 193.8L1745.1 159.7L1745.7 164.5L1746.3 179.1L1746.9 183.6L1747.5 202.8L1748.1 180.2L1748.7 186.2L1749.3 184.2L1749.9 179.3L1750.5 191.3L1751.1 168.4L1751.7 171.4L1752.3 182.7L1752.9 197.7L1753.5 176.4L1754.1 173.7L1754.7 192.0L1755.3 176.8L1755.9 190.5L1756.5 180.5L1757.1 170.8L1757.7 160.5L1758.3 164.5L1758.9 183.4L1759.5 200.9L1760.1 173.9L1760.7 164.3L1761.3 168.2L1761.9 175.7L1762.5 191.4L1763.1 169.1L1763.7 156.5L1764.3 160.0L1764.9 168.6L1765.5 161.8L1766.1 152.3L1766.7 176.7L1767.3 194.7L1767.9 159.9L1768.5 206.5L1769.1 158.5L1769.7 143.9L1770.3 150.1L1770.9 178.0L1771.5 152.9L1772.1 178.1L1772.7 183.3L1773.3 173.7L1773.9 184.5L1774.5 166.9L1775.1 178.0L1775.7 170.0L1776.3 173.6L1776.9 193.2L1777.5 205.7L1778.1 184.1L1778.7 192.5L1779.3 189.6L1779.9 200.2L1780.5 188.4L1781.1 200.6L1781.7 190.3L1782.3 179.8L1782.9 177.9L1783.5 180.1L1784.1 192.5L1784.7 199.3L1785.3 195.6L1785.9 189.2L1786.5 179.8L1787.1 173.4L1787.7 166.4L1788.3 160.5L1788.9 163.6L1789.5 167.8L1790.1 191.4L1790.7 174.4L1791.3 150.9L1791.9 146.6L1792.5 144.7L1793.1 188.2L1793.7 144.7L1794.3 134.3L1794.9 139.7L1795.5 181.2L1796.1 193.4L1796.7 177.9L1797.3 188.5L1797.9 165.0L1798.5 188.0L1799.1 195.5L1799.7 177.9L1800.3 180.5L1800.9 200.6L1801.5 204.1L1802.1 190.7L1802.7 188.6L1803.3 184.1L1803.9 202.5L1804.5 185.3L1805.1 168.4L1805.7 171.8L1806.3 179.8L1806.9 178.6L1807.5 193.5L1808.1 166.8L1808.7 170.4L1809.3 164.9L1809.9 202.5L1810.5 167.2L1811.1 160.2L1811.7 198.8L1812.3 199.3L1812.9 195.3L1813.5 153.4L1814.1 158.0L1814.7 175.2L1815.3 189.2L1815.9 173.2L1816.5 185.5L1817.1 195.3L1817.7 175.1L1818.3 204.7L1818.9 194.3L1819.5 174.8L1820.1 178.3L1820.7 181.8L1821.3 210.4L1821.9 199.0L1822.5 204.3L1823.1 198.2L1823.7 200.0L1824.3 199.3L1824.9 189.6L1825.5 179.5L1826.1 184.8L1826.7 207.5L1827.3 232.6L1827.9 190.5L1828.5 236.6L1829.1 239.8L1829.7 223.1L1830.3 246.1L1830.9 210.2L1831.5 185.9L1832.1 191.9L1832.7 241.9L1833.3 211.8L1833.9 226.7L1834.5 219.7L1835.1 236.1L1835.7 219.7L1836.3 215.5L1836.9 176.3L1837.5 182.0L1838.1 182.2L1838.7 232.6L1839.3 212.8L1839.9 202.7L1840.5 204.9L1841.1 211.1L1841.7 214.5L1842.3 178.4L1842.9 220.8L1843.5 208.2L1844.1 177.9L1844.7 183.2L1845.3 216.7L1845.9 231.0L1846.5 200.1L1847.1 222.9L1847.7 218.7L1848.3 240.5L1848.9 206.8L1849.5 204.9L1850.1 208.4L1850.7 214.9L1851.3 237.0L1851.9 230.5L1852.5 224.2L1853.1 237.2L1853.7 245.0L1854.3 216.0L1854.9 237.2L1855.5 233.9L1856.1 230.5L1856.7 246.1L1857.3 214.4L1857.9 218.0L1858.5 246.2L1859.1 250.0L1859.7 233.0L1860.3 217.3L1860.9 231.6L1861.5 241.2L1862.1 230.7L1862.7 258.8L1863.3 252.2L1863.9 209.6L1864.5 214.5L1865.1 254.2L1865.7 219.7L1866.3 197.5L1866.9 194.7L1867.5 211.3L1868.1 194.9L1868.7 191.0L1869.3 199.9L1869.9 176.3L1870.5 182.9L1871.1 203.9L1871.7 242.1L1872.3 224.9L1872.9 220.3L1873.5 206.0L1874.1 183.6L1874.7 199.3L1875.3 173.3L1875.9 165.3L1876.5 168.7L1877.1 193.2L1877.7 201.6L1878.3 198.8L1878.9 203.3L1879.5 178.1L1880.1 207.2L1880.7 186.9L1881.3 166.8L1881.9 170.9L1882.5 185.0L1883.1 186.0L1883.7 179.0L1884.3 200.1L1884.9 198.7L1885.5 203.9L1886.1 183.9L1886.7 179.4L1887.3 172.5L1887.9 196.0L1888.5 166.8L1889.1 171.0L1889.7 176.0L1890.3 208.8L1890.9 188.2L1891.5 188.2L1892.1 176.5L1892.7 192.2L1893.3 195.9L1893.9 164.8L1894.5 175.7L1895.1 172.7L1895.7 144.6L1896.3 149.6L1896.9 181.1L1897.5 194.6L1898.1 178.9L1898.7 183.8L1899.3 226.3L1899.9 191.5L1900.5 174.8L1901.1 179.9L1901.7 208.7L1902.3 220.4L1902.9 228.3L1903.5 218.9L1904.1 251.6L1904.7 221.5L1905.3 214.4L1905.9 218.1L1906.5 230.7L1907.1 217.0L1907.7 270.6L1908.3 229.4L1908.9 212.8L1909.5 218.6L1910.1 266.8L1910.7 262.6L1911.3 252.4L1911.9 239.5L1912.5 237.7L1913.1 240.9L1913.7 232.0L1914.3 253.2L1914.9 220.9L1915.5 208.0L1916.1 212.6L1916.7 219.4L1917.3 217.1L1917.9 239.0L1918.5 224.7L1919.1 227.8L1919.7 205.6L1920.3 198.5L1920.9 201.5L1921.5 224.0L1922.1 213.9L1922.7 205.3L1923.3 224.0L1923.9 220.1L1924.5 205.1L1925.1 216.9L1925.7 209.3L1926.3 228.4L1926.9 224.6L1927.5 200.1L1928.1 204.5L1928.7 238.2L1929.3 243.7L1929.9 225.1L1930.5 218.8L1931.1 222.1L1931.7 204.0L1932.3 219.4L1932.9 226.1L1933.5 202.5L1934.1 244.5L1934.7 206.9L1935.3 192.2L1935.9 197.4L1936.5 230.8L1937.1 205.9L1937.7 201.3L1938.3 211.1L1938.9 207.5L1939.5 226.3L1940.1 195.1L1940.7 164.5L1941.3 170.6L1941.9 179.6L1942.5 202.5L1943.1 201.3L1943.7 188.1L1944.3 188.2L1944.9 168.1L1945.5 194.0L1946.1 168.4L1946.7 172.0L1947.3 168.2L1947.9 204.1L1948.5 193.0L1949.1 174.4L1949.7 186.8L1950.3 121.7L1950.9 128.6L1951.5 154.0L1952.1 191.4L1952.7 169.7L1953.3 191.8L1953.9 166.8L1954.5 171.0L1955.1 193.2L1955.7 208.8L1956.3 179.2L1956.9 192.6L1957.5 184.6L1958.1 176.4L1958.7 189.8L1959.3 177.9L1959.9 163.7L1960.5 166.3L1961.1 174.0L1961.7 183.9L1962.3 189.3L1962.9 175.8L1963.5 188.5L1964.1 181.5L1964.7 184.2L1965.3 195.3L1965.9 180.4L1966.5 188.0L1967.1 176.3L1967.7 179.1L1968.3 191.2L1968.9 204.1L1969.5 210.3L1970.1 174.8L1970.7 179.2L1971.3 175.6L1971.9 219.1L1972.5 171.6L1973.1 181.7L1973.7 202.3L1974.3 194.6L1974.9 197.0L1975.5 160.5L1976.1 163.9L1976.7 175.2L1977.3 192.7L1977.9 176.0" stroke="#0000ff" stroke-width="5.5" fill="none" stroke-linejoin="bevel" stroke-linecap="butt"/>
</g>
<g>
<path d="M589.6 564.0V777.0M884.2 564.0V777.0M1178.9 564.0V777.0M1473.7 564.0V777.0M1768.4 564.0V777.0M294.8 613.3H1976.3M294.8 709.5H1976.3" stroke="#e2e2e2" stroke-width="3.6" fill="none"/>
<path d="M294.8 564.0H1976.3V777.0H294.8ZM589.6 777.0v-17.0M589.6 564.0v17.0M884.2 777.0v-17.0M884.2 564.0v17.0M1178.9 777.0v-17.0M1178.9 564.0v17.0M1473.7 777.0v-17.0M1473.7 564.0v17.0M1768.4 777.0v-17.0M1768.4 564.0v17.0M294.8 613.3h17.0M1976.3 613.3h-17.0M294.8 709.5h17.0M1976.3 709.5h-17.0" stroke="#303030" stroke-width="3.7" fill="none" stroke-linejoin="round"/>
<path clip-path="url(#c1)" d="M292.5 659.2L294.5 657.9L296.5 658.1L298.5 655.8L300.5 655.2L302.5 655.3L304.5 653.8L306.5 653.5L308.5 653.5L310.5 652.9L312.5 652.3L314.5 652.5L316.5 652.4L318.5 653.0L320.5 652.3L322.5 653.2L324.5 654.5L326.5 655.3L328.5 654.1L330.5 655.5L332.5 655.2L334.5 655.7L336.5 656.4L338.5 657.3L340.5 658.6L342.5 659.1L344.5 659.3L346.5 659.5L348.5 659.6L350.5 659.4L352.5 659.4L354.5 658.4L356.5 658.2L358.5 657.7L360.5 657.2L362.5 656.8L364.5 656.4L366.5 656.5L368.5 655.7L370.5 656.3L372.5 655.4L374.5 655.3L376.5 655.5L378.5 655.8L380.5 655.9L382.5 656.5L384.5 656.7L386.5 656.5L388.5 656.2L390.5 656.4L392.5 657.1L394.5 656.7L396.5 656.4L398.5 657.4L400.5 658.1L402.5 659.5L404.5 659.4L406.5 660.7L408.5 660.1L410.5 659.6L412.5 659.1L414.5 659.3L416.5 658.4L418.5 658.0L420.5 658.6L422.5 658.6L424.5 659.5L426.5 659.4L428.5 658.7L430.5 661.0L432.5 660.6L434.5 662.8L436.5 663.7L438.5 663.4L440.5 663.6L442.5 664.0L444.5 665.3L446.5 664.9L448.5 664.7L450.5 664.7L452.5 665.4L454.5 664.2L456.5 663.9L458.5 663.4L460.5 662.9L462.5 662.4L464.5 660.9L466.5 660.5L468.5 659.6L470.5 659.2L472.5 660.0L474.5 659.3L476.5 659.6L478.5 659.4L480.5 659.5L482.5 660.2L484.5 659.7L486.5 659.8L488.5 660.4L490.5 660.5L492.5 660.8L494.5 660.8L496.5 660.3L498.5 662.0L500.5 662.6L502.5 663.5L504.5 663.2L506.5 665.0L508.5 663.5L510.5 664.5L512.5 664.2L514.5 664.1L516.5 664.8L518.5 664.5L520.5 663.7L522.5 664.4L524.5 665.5L526.5 666.7L528.5 665.6L530.5 667.0L532.5 668.7L534.5 669.3L536.5 669.7L538.5 669.6L540.5 669.7L542.5 670.2L544.5 670.4L546.5 669.3L548.5 669.3L550.5 669.9L552.5 669.2L554.5 668.8L556.5 668.7L558.5 668.3L560.5 668.8L562.5 668.9L564.5 669.0L566.5 668.4L568.5 668.6L570.5 669.2L572.5 669.8L574.5 669.9L576.5 669.8L578.5 668.6L580.5 667.5L582.5 667.9L584.5 666.8L586.5 666.3L588.5 665.6L590.5 665.3L592.5 666.6L594.5 666.3L596.5 665.9L598.5 667.0L600.5 667.6L602.5 668.4L604.5 670.0L606.5 669.7L608.5 669.8L610.5 671.0L612.5 671.3L614.5 672.2L616.5 672.2L618.5 672.1L620.5 671.5L622.5 671.8L624.5 671.3L626.5 671.9L628.5 671.7L630.5 671.5L632.5 672.5L634.5 672.4L636.5 673.9L638.5 674.1L640.5 674.8L642.5 675.4L644.5 676.0L646.5 675.5L648.5 677.5L650.5 676.8L652.5 677.4L654.5 676.2L656.5 675.8L658.5 675.1L660.5 674.3L662.5 674.4L664.5 674.6L666.5 674.1L668.5 673.7L670.5 674.1L672.5 674.8L674.5 675.6L676.5 675.9L678.5 675.8L680.5 675.1L682.5 675.5L684.5 674.5L686.5 673.7L688.5 673.6L690.5 672.8L692.5 672.2L694.5 671.2L696.5 671.4L698.5 671.0L700.5 672.1L702.5 672.2L704.5 672.6L706.5 672.1L708.5 671.6L710.5 672.4L712.5 670.7L714.5 670.4L716.5 670.6L718.5 670.9L720.5 670.2L722.5 669.7L724.5 669.0L726.5 669.7L728.5 668.3L730.5 667.6L732.5 667.5L734.5 666.6L736.5 666.3L738.5 666.5L740.5 665.4L742.5 665.7L744.5 665.9L746.5 666.5L748.5 667.3L750.5 667.3L752.5 666.9L754.5 666.7L756.5 667.0L758.5 667.5L760.5 667.2L762.5 667.4L764.5 666.8L766.5 668.4L768.5 667.6L770.5 668.0L772.5 668.8L774.5 669.5L776.5 670.0L778.5 670.1L780.5 670.8L782.5 671.0L784.5 670.6L786.5 671.5L788.5 671.4L790.5 672.0L792.5 671.8L794.5 672.2L796.5 671.9L798.5 671.8L800.5 671.6L802.5 671.0L804.5 670.4L806.5 671.0L808.5 670.0L810.5 670.5L812.5 670.9L814.5 670.4L816.5 670.7L818.5 669.8L820.5 669.5L822.5 669.6L824.5 669.4L826.5 669.4L828.5 668.8L830.5 669.1L832.5 669.2L834.5 669.0L836.5 668.0L838.5 667.9L840.5 668.5L842.5 667.1L844.5 667.9L846.5 667.6L848.5 668.5L850.5 668.0L852.5 668.7L854.5 668.0L856.5 669.2L858.5 669.9L860.5 669.0L862.5 670.4L864.5 669.7L866.5 670.3L868.5 669.3L870.5 671.3L872.5 670.8L874.5 671.2L876.5 671.2L878.5 671.6L880.5 672.8L882.5 672.3L884.5 673.2L886.5 673.2L888.5 674.0L890.5 674.4L892.5 675.6L894.5 677.4L896.5 677.2L898.5 677.9L900.5 678.2L902.5 679.5L904.5 680.1L906.5 679.0L908.5 679.4L910.5 681.1L912.5 680.5L914.5 680.4L916.5 680.6L918.5 680.7L920.5 680.5L922.5 680.0L924.5 681.2L926.5 680.7L928.5 680.8L930.5 681.7L932.5 682.6L934.5 683.2L936.5 683.7L938.5 683.9L940.5 681.8L942.5 682.2L944.5 682.3L946.5 681.6L948.5 680.7L950.5 680.4L952.5 680.9L954.5 679.9L956.5 679.6L958.5 680.5L960.5 679.6L962.5 680.3L964.5 680.3L966.5 680.6L968.5 680.4L970.5 680.7L972.5 682.0L974.5 681.2L976.5 682.1L978.5 681.6L980.5 682.2L982.5 682.4L984.5 681.7L986.5 683.0L988.5 682.7L990.5 683.9L992.5 683.6L994.5 685.1L996.5 686.1L998.5 685.2L1000.5 684.7L1002.5 684.8L1004.5 684.2L1006.5 683.5L1008.5 682.9L1010.5 682.1L1012.5 682.1L1014.5 681.7L1016.5 681.6L1018.5 682.7L1020.5 682.6L1022.5 684.1L1024.5 682.9L1026.5 682.7L1028.5 682.8L1030.5 683.1L1032.5 682.4L1034.5 681.9L1036.5 682.9L1038.5 681.4L1040.5 682.7L1042.5 682.3L1044.5 682.1L1046.5 683.7L1048.5 683.3L1050.5 683.2L1052.5 683.8L1054.5 684.2L1056.5 683.6L1058.5 683.3L1060.5 683.4L1062.5 682.3L1064.5 682.1L1066.5 681.7L1068.5 681.2L1070.5 682.2L1072.5 683.4L1074.5 682.4L1076.5 684.3L1078.5 684.1L1080.5 683.6L1082.5 683.7L1084.5 684.0L1086.5 682.3L1088.5 682.2L1090.5 681.6L1092.5 680.0L1094.5 679.8L1096.5 679.0L1098.5 677.9L1100.5 677.9L1102.5 677.0L1104.5 676.6L1106.5 676.0L1108.5 676.7L1110.5 676.5L1112.5 677.0L1114.5 677.5L1116.5 678.3L1118.5 679.3L1120.5 680.7L1122.5 680.6L1124.5 682.2L1126.5 682.2L1128.5 682.5L1130.5 682.3L1132.5 684.0L1134.5 682.8L1136.5 684.0L1138.5 684.9L1140.5 684.5L1142.5 684.7L1144.5 685.5L1146.5 686.4L1148.5 687.0L1150.5 686.9L1152.5 686.1L1154.5 686.2L1156.5 686.4L1158.5 685.5L1160.5 685.8L1162.5 686.7L1164.5 685.0L1166.5 685.7L1168.5 684.5L1170.5 684.5L1172.5 684.4L1174.5 683.8L1176.5 684.7L1178.5 685.7L1180.5 685.9L1182.5 686.3L1184.5 686.0L1186.5 686.7L1188.5 687.2L1190.5 687.6L1192.5 688.2L1194.5 687.3L1196.5 688.8L1198.5 688.1L1200.5 688.4L1202.5 688.2L1204.5 689.0L1206.5 689.1L1208.5 688.9L1210.5 689.6L1212.5 690.1L1214.5 690.0L1216.5 690.5L1218.5 689.5L1220.5 689.9L1222.5 688.9L1224.5 688.5L1226.5 686.6L1228.5 686.5L1230.5 685.4L1232.5 685.1L1234.5 683.7L1236.5 684.7L1238.5 683.8L1240.5 685.5L1242.5 685.9L1244.5 686.0L1246.5 687.8L1248.5 686.3L1250.5 686.6L1252.5 686.4L1254.5 686.3L1256.5 686.1L1258.5 686.5L1260.5 686.7L1262.5 687.0L1264.5 687.1L1266.5 687.9L1268.5 689.0L1270.5 688.6L1272.5 689.7L1274.5 689.2L1276.5 690.2L1278.5 690.0L1280.5 691.2L1282.5 689.4L1284.5 689.7L1286.5 689.7L1288.5 689.3L1290.5 689.0L1292.5 688.8L1294.5 688.3L1296.5 688.3L1298.5 687.7L1300.5 687.6L1302.5 686.7L1304.5 687.6L1306.5 688.2L1308.5 687.6L1310.5 687.6L1312.5 688.4L1314.5 689.0L1316.5 689.1L1318.5 688.0L1320.5 689.0L1322.5 688.6L1324.5 689.0L1326.5 687.7L1328.5 688.8L1330.5 687.9L1332.5 687.9L1334.5 687.8L1336.5 687.8L1338.5 689.1L1340.5 689.5L1342.5 690.0L1344.5 691.2L1346.5 691.2L1348.5 691.3L1350.5 692.1L1352.5 691.3L1354.5 691.1L1356.5 690.7L1358.5 690.0L1360.5 689.5L1362.5 689.1L1364.5 688.0L1366.5 687.3L1368.5 688.1L1370.5 687.8L1372.5 686.7L1374.5 687.0L1376.5 686.3L1378.5 685.6L1380.5 686.5L1382.5 686.0L1384.5 685.7L1386.5 686.2L1388.5 685.9L1390.5 684.8L1392.5 684.4L1394.5 684.0L1396.5 685.0L1398.5 685.2L1400.5 685.9L1402.5 686.2L1404.5 686.2L1406.5 686.4L1408.5 685.8L1410.5 687.0L1412.5 686.2L1414.5 686.7L1416.5 686.2L1418.5 686.8L1420.5 687.5L1422.5 687.6L1424.5 687.8L1426.5 689.7L1428.5 689.1L1430.5 689.9L1432.5 690.0L1434.5 690.0L1436.5 691.1L1438.5 690.7L1440.5 690.7L1442.5 689.4L1444.5 690.4L1446.5 690.3L1448.5 689.6L1450.5 689.0L1452.5 689.3L1454.5 688.8L1456.5 689.1L1458.5 689.5L1460.5 689.4L1462.5 687.9L1464.5 687.8L1466.5 686.3L1468.5 685.0L1470.5 685.5L1472.5 684.3L1474.5 684.7L1476.5 683.8L1478.5 684.7L1480.5 685.4L1482.5 686.3L1484.5 686.8L1486.5 687.4L1488.5 688.2L1490.5 689.9L1492.5 689.6L1494.5 690.2L1496.5 691.6L1498.5 690.4L1500.5 690.6L1502.5 691.4L1504.5 691.9L1506.5 691.7L1508.5 692.4L1510.5 692.4L1512.5 691.7L1514.5 692.3L1516.5 691.4L1518.5 692.2L1520.5 691.9L1522.5 693.0L1524.5 692.6L1526.5 692.5L1528.5 693.2L1530.5 693.5L1532.5 693.5L1534.5 693.6L1536.5 695.2L1538.5 695.8L1540.5 695.3L1542.5 695.9L1544.5 696.1L1546.5 696.8L1548.5 696.6L1550.5 695.0L1552.5 694.5L1554.5 693.7L1556.5 693.4L1558.5 693.2L1560.5 693.0L1562.5 692.2L1564.5 691.8L1566.5 692.4L1568.5 692.4L1570.5 692.0L1572.5 692.3L1574.5 692.5L1576.5 692.9L1578.5 692.8L1580.5 693.4L1582.5 693.8L1584.5 693.8L1586.5 695.1L1588.5 695.2L1590.5 695.6L1592.5 694.2L1594.5 693.8L1596.5 693.5L1598.5 692.0L1600.5 692.2L1602.5 691.6L1604.5 691.4L1606.5 691.5L1608.5 690.9L1610.5 692.4L1612.5 692.9L1614.5 693.8L1616.5 694.3L1618.5 693.9L1620.5 694.1L1622.5 692.4L1624.5 693.4L1626.5 693.2L1628.5 692.6L1630.5 691.5L1632.5 690.2L1634.5 689.1L1636.5 688.0L1638.5 687.0L1640.5 686.5L1642.5 686.4L1644.5 686.6L1646.5 688.8L1648.5 688.5L1650.5 688.5L1652.5 691.2L1654.5 691.8L1656.5 692.1L1658.5 693.0L1660.5 693.1L1662.5 692.8L1664.5 693.3L1666.5 692.5L1668.5 692.4L1670.5 691.7L1672.5 691.6L1674.5 691.4L1676.5 689.9L1678.5 689.7L1680.5 687.9L1682.5 688.0L1684.5 688.5L1686.5 688.5L1688.5 688.4L1690.5 688.4L1692.5 687.4L1694.5 688.3L1696.5 687.8L1698.5 689.4L1700.5 689.9L1702.5 689.7L1704.5 689.3L1706.5 689.7L1708.5 689.5L1710.5 689.1L1712.5 688.6L1714.5 688.7L1716.5 688.5L1718.5 688.4L1720.5 688.6L1722.5 688.5L1724.5 688.3L1726.5 689.4L1728.5 690.2L1730.5 690.4L1732.5 691.3L1734.5 691.5L1736.5 693.0L1738.5 693.0L1740.5 693.0L1742.5 693.0L1744.5 692.3L1746.5 691.0L1748.5 690.4L1750.5 689.4L1752.5 688.3L1754.5 687.4L1756.5 686.5L1758.5 687.1L1760.5 687.4L1762.5 687.5L1764.5 689.3L1766.5 689.6L1768.5 690.2L1770.5 691.6L1772.5 692.7L1774.5 693.7L1776.5 694.1L1778.5 695.1L1780.5 694.7L1782.5 695.1L1784.5 695.2L1786.5 694.4L1788.5 694.8L1790.5 694.7L1792.5 694.1L1794.5 693.4L1796.5 695.1L1798.5 695.5L1800.5 694.5L1802.5 695.7L1804.5 696.1L1806.5 695.6L1808.5 696.5L1810.5 697.6L1812.5 697.4L1814.5 697.5L1816.5 698.1L1818.5 697.1L1820.5 696.0L1822.5 696.5L1824.5 694.4L1826.5 693.7L1828.5 693.3L1830.5 692.2L1832.5 691.5L1834.5 690.5L1836.5 690.6L1838.5 691.0L1840.5 689.8L1842.5 689.9L1844.5 691.0L1846.5 691.1L1848.5 692.0L1850.5 692.5L1852.5 693.3L1854.5 693.7L1856.5 694.1L1858.5 694.7L1860.5 693.8L1862.5 694.6L1864.5 695.4L1866.5 695.5L1868.5 696.5L1870.5 697.7L1872.5 698.3L1874.5 699.5L1876.5 699.3L1878.5 700.7L1880.5 699.3L1882.5 699.3L1884.5 700.2L1886.5 698.5L1888.5 699.1L1890.5 696.1L1892.5 696.6L1894.5 696.9L1896.5 696.4L1898.5 695.4L1900.5 694.4L1902.5 694.4L1904.5 695.1L1906.5 695.6L1908.5 697.1L1910.5 697.6L1912.5 699.6L1914.5 701.2L1916.5 703.4L1918.5 703.7L1920.5 705.0L1922.5 705.6L1924.5 706.4L1926.5 706.9L1928.5 708.7L1930.5 709.9L1932.5 709.3L1934.5 708.5L1936.5 709.9L1938.5 710.0L1940.5 710.1L1942.5 711.3L1944.5 711.4L1946.5 712.1L1948.5 711.8L1950.5 713.2L1952.5 713.4L1954.5 715.2L1956.5 714.8L1958.5 716.5L1960.5 716.6L1962.5 716.9L1964.5 716.3L1966.5 717.2L1968.5 715.8L1970.5 715.9L1972.5 715.9L1974.5 717.1L1976.5 716.2" stroke="#0000ff" stroke-width="4.4" fill="none" stroke-linejoin="bevel" stroke-linecap="butt"/>
</g>
<g>
<path d="M589.6 1054.0V1267.8M884.2 1054.0V1267.8M1178.9 1054.0V1267.8M1473.7 1054.0V1267.8M1768.4 1054.0V1267.8M294.8 1084.9H1976.3M294.8 1131.6H1976.3M294.8 1178.2H1976.3M294.8 1224.7H1976.3" stroke="#e2e2e2" stroke-width="3.6" fill="none"/>
<path d="M294.8 1054.0H1976.3V1267.8H294.8ZM589.6 1267.8v-17.0M589.6 1054.0v17.0M884.2 1267.8v-17.0M884.2 1054.0v17.0M1178.9 1267.8v-17.0M1178.9 1054.0v17.0M1473.7 1267.8v-17.0M1473.7 1054.0v17.0M1768.4 1267.8v-17.0M1768.4 1054.0v17.0M294.8 1084.9h17.0M1976.3 1084.9h-17.0M294.8 1131.6h17.0M1976.3 1131.6h-17.0M294.8 1178.2h17.0M1976.3 1178.2h-17.0M294.8 1224.7h17.0M1976.3 1224.7h-17.0" stroke="#303030" stroke-width="3.7" fill="none" stroke-linejoin="round"/>
<path clip-path="url(#c2)" d="M292.1 1178.1C292.5 1169.2 293.6 1141.2 294.5 1124.2C295.4 1107.3 296.6 1087.9 297.7 1076.7C298.7 1065.5 299.9 1059.9 300.8 1056.9C301.8 1053.8 302.3 1056.5 303.2 1058.5C304.2 1060.5 305.3 1065.7 306.4 1068.8C307.5 1071.8 308.0 1074.7 309.6 1076.7C311.2 1078.7 314.3 1078.3 315.9 1080.7C317.5 1083.0 318.0 1086.3 319.1 1091.0C320.1 1095.6 321.2 1102.3 322.2 1108.4C323.3 1114.5 324.4 1121.1 325.4 1127.4C326.5 1133.8 327.1 1139.0 328.6 1146.4C330.0 1153.8 332.4 1163.3 334.1 1171.8C335.9 1180.2 337.4 1187.9 338.9 1197.2C340.3 1206.4 341.7 1218.6 342.9 1227.3C344.0 1236.0 345.1 1244.4 346.0 1249.5C346.9 1254.5 347.5 1257.1 348.4 1257.4C349.3 1257.6 350.4 1255.5 351.6 1251.0C352.8 1246.6 354.2 1237.8 355.5 1230.4C356.9 1223.0 358.0 1213.8 359.5 1206.7C360.9 1199.5 362.7 1194.0 364.2 1187.6C365.8 1181.3 367.7 1172.9 369.0 1168.6C370.3 1164.4 371.1 1163.7 372.2 1162.3C373.3 1160.8 374.5 1159.6 375.7 1159.9C376.8 1160.2 378.0 1163.0 379.3 1163.9C380.6 1164.7 382.3 1165.9 383.6 1165.1C384.9 1164.3 386.1 1161.8 387.2 1159.1C388.4 1156.4 389.5 1150.9 390.4 1148.8C391.3 1146.7 391.9 1146.4 392.8 1146.4C393.7 1146.4 395.0 1146.4 395.9 1148.8C396.9 1151.2 397.4 1156.3 398.3 1160.7C399.2 1165.1 400.4 1171.4 401.5 1175.0C402.6 1178.5 403.9 1181.6 405.1 1182.1C406.3 1182.6 407.5 1180.4 408.6 1178.1C409.7 1175.9 410.7 1171.3 411.8 1168.6C412.9 1166.0 413.9 1163.6 415.0 1162.3C416.0 1161.0 416.6 1160.5 418.1 1160.7C419.7 1160.9 422.5 1162.0 424.5 1163.6C426.5 1165.1 428.6 1167.0 430.0 1170.2C431.5 1173.4 432.0 1176.8 433.2 1182.9C434.4 1189.0 435.8 1198.2 437.2 1206.7C438.5 1215.1 440.1 1227.3 441.1 1233.6C442.2 1239.9 442.7 1242.3 443.5 1244.7C444.3 1247.1 445.1 1248.1 445.9 1247.9C446.7 1247.6 447.3 1246.6 448.2 1243.1C449.2 1239.7 450.4 1232.3 451.4 1227.3C452.5 1222.2 453.3 1217.0 454.6 1213.0C455.9 1209.0 457.9 1206.4 459.3 1203.5C460.8 1200.6 462.1 1199.5 463.3 1195.6C464.5 1191.6 465.4 1186.3 466.5 1179.7C467.5 1173.1 468.7 1161.8 469.6 1155.9C470.6 1150.1 471.1 1147.8 472.0 1144.9C472.9 1141.9 474.1 1139.7 475.2 1138.5C476.2 1137.3 477.2 1137.6 478.4 1137.7C479.6 1137.9 481.0 1139.7 482.3 1139.3C483.6 1138.9 485.0 1136.4 486.3 1135.3C487.6 1134.3 488.9 1132.8 490.3 1133.0C491.6 1133.1 493.0 1134.4 494.2 1136.1C495.4 1137.9 496.3 1140.0 497.4 1143.3C498.4 1146.6 499.4 1151.2 500.6 1155.9C501.7 1160.7 503.2 1167.6 504.5 1171.8C505.8 1176.0 507.2 1179.2 508.5 1181.3C509.8 1183.4 511.1 1184.5 512.4 1184.5C513.8 1184.5 515.1 1183.7 516.4 1181.3C517.7 1178.9 519.3 1173.0 520.4 1170.2C521.4 1167.4 522.0 1165.7 522.7 1164.7C523.5 1163.6 523.9 1163.3 524.6 1163.9C525.4 1164.4 526.6 1164.7 527.5 1167.8C528.4 1171.0 528.9 1176.4 529.9 1182.9C530.8 1189.4 532.0 1199.0 533.0 1206.7C534.1 1214.3 535.3 1223.2 536.2 1228.9C537.1 1234.5 537.8 1238.5 538.6 1240.7C539.4 1243.0 540.0 1243.8 541.0 1242.3C541.9 1240.9 542.9 1236.4 544.1 1232.0C545.3 1227.7 546.4 1221.2 548.1 1216.2C549.8 1211.2 552.6 1206.1 554.4 1201.9C556.3 1197.7 557.9 1195.6 559.2 1190.8C560.5 1186.1 561.3 1177.3 562.4 1173.4C563.4 1169.4 564.5 1167.3 565.5 1167.0C566.6 1166.8 567.6 1168.6 568.7 1171.8C569.8 1175.0 570.8 1182.5 571.9 1186.1C572.9 1189.6 574.0 1192.5 575.0 1193.2C576.1 1193.9 577.2 1194.4 578.2 1190.0C579.3 1185.7 580.3 1175.4 581.4 1167.0C582.4 1158.7 583.6 1147.5 584.6 1140.1C585.5 1132.7 585.9 1126.2 586.9 1122.7C588.0 1119.1 589.7 1118.2 590.9 1118.7C592.1 1119.2 592.9 1122.5 594.1 1125.8C595.3 1129.1 596.7 1134.5 598.0 1138.5C599.3 1142.5 600.8 1145.6 602.0 1149.6C603.2 1153.6 604.1 1158.1 605.0 1162.3C605.9 1166.5 606.3 1170.7 607.2 1175.0C608.1 1179.2 609.2 1184.3 610.4 1187.6C611.5 1190.9 613.0 1194.2 614.3 1194.8C615.6 1195.3 617.0 1193.1 618.3 1190.8C619.6 1188.6 620.7 1183.7 622.2 1181.3C623.8 1178.9 626.1 1177.9 627.8 1176.6C629.5 1175.2 631.1 1174.3 632.5 1173.4C634.0 1172.5 635.3 1170.5 636.5 1171.0C637.7 1171.5 638.6 1172.2 639.7 1176.6C640.7 1180.9 641.8 1190.3 642.9 1197.2C643.9 1204.0 645.1 1212.5 646.0 1217.8C646.9 1223.0 647.6 1226.3 648.4 1228.9C649.2 1231.4 649.9 1233.1 650.8 1232.8C651.6 1232.6 652.5 1231.6 653.5 1227.3C654.4 1222.9 655.3 1214.3 656.3 1206.7C657.3 1199.0 658.4 1188.7 659.5 1181.3C660.5 1173.9 661.6 1166.2 662.7 1162.3C663.7 1158.3 664.8 1157.3 665.8 1157.5C666.9 1157.8 667.9 1160.2 669.0 1163.9C670.1 1167.6 671.0 1174.4 672.2 1179.7C673.4 1185.0 674.9 1192.1 676.1 1195.6C677.4 1199.0 678.6 1200.2 679.8 1200.3C681.0 1200.5 682.0 1199.3 683.3 1196.4C684.5 1193.5 685.9 1187.5 687.2 1182.9C688.5 1178.3 689.7 1172.1 691.2 1168.6C692.6 1165.2 694.5 1162.5 695.9 1162.3C697.4 1162.0 698.7 1163.9 699.9 1167.0C701.1 1170.2 701.9 1176.3 703.1 1181.3C704.3 1186.3 705.6 1193.2 707.0 1197.2C708.5 1201.1 710.3 1204.6 711.8 1205.1C713.2 1205.6 714.4 1203.0 715.8 1200.3C717.1 1197.7 718.3 1191.7 719.7 1189.2C721.2 1186.7 723.0 1186.3 724.5 1185.3C725.9 1184.2 727.2 1185.1 728.4 1182.9C729.6 1180.6 730.6 1177.6 731.6 1171.8C732.7 1166.0 733.7 1154.8 734.8 1148.0C735.8 1141.3 736.9 1134.7 737.9 1131.4C739.0 1128.1 740.1 1127.8 741.1 1128.2C742.2 1128.6 743.2 1129.4 744.3 1133.8C745.3 1138.1 746.3 1149.3 747.5 1154.4C748.6 1159.4 750.1 1162.8 751.4 1163.9C752.7 1164.9 754.1 1162.5 755.4 1160.7C756.7 1158.9 758.2 1154.5 759.3 1152.8C760.5 1151.1 761.3 1149.9 762.5 1150.4C763.7 1150.9 765.2 1152.4 766.5 1155.9C767.8 1159.5 769.1 1166.2 770.4 1171.8C771.8 1177.3 773.1 1183.9 774.4 1189.2C775.7 1194.5 777.2 1200.2 778.4 1203.5C779.6 1206.8 779.9 1207.9 781.5 1209.0C783.1 1210.2 785.8 1210.0 787.9 1210.6C790.0 1211.3 792.4 1213.1 794.2 1213.0C796.1 1212.9 797.4 1211.7 799.0 1209.8C800.6 1208.0 802.1 1203.9 803.7 1201.9C805.3 1199.9 806.9 1198.9 808.5 1197.9C810.1 1197.0 811.8 1197.8 813.2 1196.4C814.7 1194.9 816.0 1192.8 817.2 1189.2C818.4 1185.7 819.4 1179.1 820.4 1175.0C821.3 1170.9 821.7 1166.9 822.7 1164.7C823.8 1162.4 825.4 1161.2 826.7 1161.5C828.0 1161.8 829.2 1164.8 830.7 1166.2C832.1 1167.7 834.1 1170.3 835.4 1170.2C836.7 1170.1 837.5 1168.4 838.6 1165.5C839.6 1162.5 840.4 1155.7 841.8 1152.8C843.1 1149.9 845.1 1147.5 846.5 1148.0C848.0 1148.5 849.2 1152.9 850.5 1155.9C851.8 1159.0 853.0 1163.9 854.4 1166.2C855.9 1168.6 857.5 1168.8 859.2 1170.2C860.9 1171.7 863.0 1173.4 864.7 1175.0C866.5 1176.5 867.9 1179.3 869.5 1179.4C871.1 1179.5 872.8 1178.9 874.3 1175.8C875.7 1172.6 877.0 1165.3 878.2 1160.7C879.4 1156.1 880.3 1150.7 881.4 1148.0C882.4 1145.4 883.5 1144.7 884.6 1144.9C885.6 1145.0 886.7 1145.4 887.7 1148.8C888.8 1152.2 889.8 1159.0 890.9 1165.5C892.0 1171.9 893.0 1181.7 894.1 1187.6C895.1 1193.6 896.0 1197.9 897.2 1201.1C898.4 1204.3 899.9 1205.9 901.2 1206.7C902.5 1207.5 903.7 1206.5 905.0 1205.9C906.3 1205.2 907.1 1204.2 908.8 1202.7C910.5 1201.2 913.4 1199.5 915.1 1197.2C916.8 1194.8 917.8 1190.4 919.1 1188.4C920.4 1186.5 921.8 1184.9 923.0 1185.3C924.3 1185.7 925.5 1187.2 926.5 1190.8C927.6 1194.4 928.4 1201.1 929.4 1206.7C930.4 1212.2 931.5 1219.9 932.5 1224.1C933.6 1228.3 934.8 1230.6 935.7 1232.0C936.6 1233.5 937.3 1233.6 938.1 1232.8C938.9 1232.0 939.7 1231.4 940.5 1227.3C941.3 1223.2 941.9 1217.0 942.9 1208.2C943.8 1199.5 945.0 1185.3 946.0 1175.0C947.1 1164.7 948.1 1153.0 949.2 1146.4C950.2 1139.8 951.0 1137.7 952.4 1135.3C953.7 1133.0 955.4 1131.9 957.1 1132.2C958.8 1132.4 960.9 1134.8 962.7 1136.9C964.4 1139.0 966.0 1141.9 967.4 1144.9C968.9 1147.8 970.2 1150.9 971.4 1154.4C972.6 1157.8 973.4 1162.3 974.5 1165.5C975.7 1168.6 976.8 1171.8 978.5 1173.4C980.2 1175.0 983.1 1173.4 984.9 1175.0C986.6 1176.6 987.6 1178.1 988.8 1182.9C990.0 1187.6 990.9 1196.1 992.0 1203.5C993.0 1210.9 994.2 1221.2 995.2 1227.3C996.1 1233.3 996.8 1237.3 997.5 1239.9C998.2 1242.6 998.6 1243.6 999.4 1243.1C1000.2 1242.6 1001.4 1241.3 1002.3 1236.8C1003.2 1232.3 1003.7 1225.2 1004.7 1216.2C1005.6 1207.2 1006.9 1192.1 1007.8 1182.9C1008.8 1173.6 1009.3 1165.5 1010.2 1160.7C1011.1 1155.9 1012.2 1154.9 1013.4 1154.4C1014.6 1153.8 1016.0 1155.2 1017.3 1157.5C1018.7 1159.9 1019.7 1166.0 1021.3 1168.6C1022.9 1171.3 1025.3 1173.4 1026.9 1173.4C1028.4 1173.4 1029.5 1171.3 1030.8 1168.6C1032.1 1166.0 1033.3 1160.2 1034.8 1157.5C1036.2 1154.9 1038.1 1152.8 1039.5 1152.8C1041.0 1152.8 1042.3 1154.1 1043.5 1157.5C1044.7 1161.0 1045.6 1167.6 1046.7 1173.4C1047.7 1179.2 1048.8 1187.4 1049.8 1192.4C1050.9 1197.4 1052.1 1201.4 1053.0 1203.5C1053.9 1205.6 1054.5 1205.6 1055.4 1205.1C1056.3 1204.6 1057.5 1203.5 1058.6 1200.3C1059.6 1197.2 1060.5 1189.4 1061.7 1186.1C1062.9 1182.8 1064.5 1180.5 1065.7 1180.5C1066.9 1180.5 1067.8 1181.7 1068.9 1186.1C1069.9 1190.4 1070.8 1199.3 1072.0 1206.7C1073.2 1214.1 1074.8 1224.9 1076.0 1230.4C1077.2 1236.0 1078.2 1238.1 1079.2 1239.9C1080.1 1241.8 1080.6 1242.6 1081.5 1241.5C1082.5 1240.5 1083.6 1239.4 1084.7 1233.6C1085.8 1227.8 1086.7 1217.0 1087.9 1206.7C1089.1 1196.4 1090.5 1182.1 1091.8 1171.8C1093.2 1161.5 1094.3 1152.8 1095.8 1144.9C1097.3 1136.9 1099.1 1130.6 1100.6 1124.2C1102.0 1117.9 1103.3 1111.0 1104.5 1106.8C1105.7 1102.6 1106.8 1100.5 1107.7 1098.9C1108.6 1097.3 1109.1 1097.0 1110.1 1097.3C1111.0 1097.6 1112.2 1097.3 1113.2 1100.5C1114.3 1103.6 1115.3 1108.4 1116.4 1116.3C1117.5 1124.2 1118.5 1138.2 1119.6 1148.0C1120.6 1157.8 1121.7 1168.4 1122.7 1175.0C1123.8 1181.6 1124.6 1184.2 1125.9 1187.6C1127.2 1191.1 1129.1 1192.9 1130.7 1195.6C1132.3 1198.2 1133.8 1200.1 1135.4 1203.5C1137.0 1206.9 1138.7 1212.7 1140.2 1216.2C1141.6 1219.6 1143.1 1222.5 1144.1 1224.1C1145.2 1225.7 1145.3 1226.1 1146.5 1225.7C1147.7 1225.3 1149.7 1224.1 1151.3 1221.7C1152.9 1219.3 1154.4 1216.0 1156.0 1211.4C1157.6 1206.8 1159.3 1201.1 1160.8 1194.0C1162.2 1186.9 1163.4 1176.6 1164.7 1168.6C1166.1 1160.7 1167.5 1151.5 1168.7 1146.4C1169.9 1141.4 1171.0 1140.2 1171.9 1138.5C1172.8 1136.8 1173.2 1135.6 1174.3 1136.1C1175.3 1136.7 1176.9 1138.4 1178.2 1141.7C1179.5 1145.0 1180.9 1151.5 1182.2 1155.9C1183.5 1160.4 1184.7 1164.1 1186.1 1168.6C1187.6 1173.1 1189.4 1178.7 1190.9 1182.9C1192.3 1187.1 1193.4 1190.9 1194.9 1194.0C1196.3 1197.0 1197.9 1199.5 1199.6 1201.1C1201.3 1202.7 1203.5 1203.0 1205.0 1203.5C1206.5 1204.0 1207.5 1202.4 1208.8 1204.3C1210.1 1206.1 1211.5 1211.3 1212.7 1214.6C1213.9 1217.9 1214.9 1222.0 1215.9 1224.1C1216.9 1226.2 1217.6 1227.5 1218.6 1227.3C1219.6 1227.0 1220.8 1226.5 1221.8 1222.5C1222.8 1218.6 1223.8 1211.9 1224.6 1203.5C1225.5 1195.0 1226.2 1182.4 1227.0 1171.8C1227.8 1161.2 1228.6 1148.5 1229.4 1140.1C1230.2 1131.6 1230.7 1125.3 1231.8 1121.1C1232.8 1116.9 1234.4 1114.7 1235.7 1114.7C1237.0 1114.7 1238.6 1116.9 1239.7 1121.1C1240.7 1125.3 1241.1 1133.8 1242.1 1140.1C1243.0 1146.4 1244.2 1155.3 1245.2 1159.1C1246.3 1162.9 1247.2 1163.6 1248.4 1163.1C1249.6 1162.5 1251.0 1158.1 1252.4 1155.9C1253.7 1153.8 1255.0 1150.4 1256.3 1150.4C1257.6 1150.4 1259.1 1152.6 1260.3 1155.9C1261.5 1159.2 1262.3 1165.2 1263.5 1170.2C1264.6 1175.2 1266.0 1180.5 1267.4 1186.1C1268.9 1191.6 1270.7 1198.2 1272.2 1203.5C1273.6 1208.8 1274.9 1214.5 1276.1 1217.8C1277.4 1221.1 1278.6 1223.3 1279.8 1223.3C1281.0 1223.3 1282.0 1221.6 1283.3 1217.8C1284.5 1213.9 1285.9 1206.1 1287.2 1200.3C1288.5 1194.5 1289.7 1187.6 1291.2 1182.9C1292.6 1178.1 1294.4 1175.0 1295.9 1171.8C1297.5 1168.6 1299.2 1166.4 1300.7 1163.9C1302.2 1161.4 1303.5 1158.2 1304.7 1156.7C1305.9 1155.3 1306.6 1154.8 1307.8 1155.2C1309.0 1155.5 1310.5 1157.1 1311.8 1159.1C1313.1 1161.1 1314.4 1165.3 1315.8 1167.0C1317.1 1168.8 1318.3 1169.8 1319.7 1169.4C1321.2 1169.0 1322.9 1165.9 1324.5 1164.7C1326.1 1163.5 1327.6 1162.0 1329.2 1162.3C1330.8 1162.5 1332.5 1163.9 1334.0 1166.2C1335.4 1168.6 1336.6 1171.9 1337.9 1176.6C1339.3 1181.2 1340.7 1187.9 1341.9 1194.0C1343.1 1200.1 1344.0 1207.5 1345.1 1213.0C1346.1 1218.6 1347.2 1224.1 1348.2 1227.3C1349.3 1230.4 1350.4 1232.3 1351.4 1232.0C1352.5 1231.8 1353.5 1230.4 1354.6 1225.7C1355.6 1220.9 1356.7 1210.1 1357.8 1203.5C1358.8 1196.9 1359.9 1190.3 1360.9 1186.1C1362.0 1181.8 1362.5 1180.0 1364.1 1178.1C1365.7 1176.3 1368.3 1176.3 1370.4 1175.0C1372.6 1173.6 1374.7 1171.8 1376.8 1170.2C1378.9 1168.6 1381.4 1167.8 1383.1 1165.5C1384.8 1163.1 1385.9 1159.6 1387.1 1155.9C1388.3 1152.2 1389.1 1146.4 1390.3 1143.3C1391.4 1140.1 1392.9 1136.9 1394.2 1136.9C1395.5 1136.9 1397.0 1139.6 1398.2 1143.3C1399.4 1147.0 1400.2 1155.2 1401.3 1159.1C1402.5 1163.1 1404.0 1166.5 1405.3 1167.0C1406.6 1167.6 1407.8 1163.6 1409.3 1162.3C1410.7 1161.0 1412.6 1158.9 1414.0 1159.1C1415.5 1159.4 1416.8 1160.7 1418.0 1163.9C1419.2 1167.0 1420.0 1173.1 1421.2 1178.1C1422.3 1183.2 1423.7 1188.7 1425.1 1194.0C1426.6 1199.3 1428.4 1204.6 1429.9 1209.8C1431.3 1215.1 1432.6 1221.6 1433.8 1225.7C1435.0 1229.8 1436.2 1232.8 1437.0 1234.4C1437.8 1236.0 1437.8 1236.1 1438.6 1235.2C1439.4 1234.3 1440.7 1232.8 1441.8 1228.9C1442.8 1224.9 1443.9 1216.4 1444.9 1211.4C1446.0 1206.4 1447.0 1201.2 1448.1 1198.7C1449.2 1196.2 1450.2 1196.2 1451.3 1196.4C1452.3 1196.5 1453.3 1198.9 1454.4 1199.5C1455.6 1200.2 1457.2 1201.2 1458.4 1200.3C1459.6 1199.4 1460.6 1199.3 1461.6 1194.0C1462.5 1188.7 1463.2 1177.6 1463.9 1168.6C1464.7 1159.6 1465.5 1148.5 1466.3 1140.1C1467.1 1131.6 1467.9 1123.5 1468.7 1117.9C1469.5 1112.4 1470.2 1109.2 1471.1 1106.8C1472.0 1104.4 1473.2 1103.4 1474.3 1103.6C1475.3 1103.9 1476.5 1105.0 1477.4 1108.4C1478.3 1111.8 1478.9 1118.4 1479.8 1124.2C1480.7 1130.1 1481.9 1138.0 1483.0 1143.3C1484.0 1148.5 1484.8 1151.5 1486.1 1155.9C1487.5 1160.4 1489.3 1165.5 1490.9 1170.2C1492.5 1175.0 1494.2 1180.0 1495.6 1184.5C1497.1 1189.0 1498.1 1194.1 1499.6 1197.2C1501.2 1200.2 1503.5 1202.7 1505.0 1202.7C1506.5 1202.7 1507.5 1199.9 1508.8 1197.2C1510.1 1194.4 1511.4 1189.0 1512.7 1186.1C1514.1 1183.2 1515.2 1181.2 1516.7 1179.7C1518.2 1178.3 1519.9 1177.5 1521.8 1177.3C1523.6 1177.2 1525.9 1178.3 1527.8 1178.9C1529.7 1179.6 1531.8 1179.9 1533.3 1181.3C1534.9 1182.8 1536.1 1183.9 1537.3 1187.6C1538.5 1191.3 1539.4 1197.9 1540.5 1203.5C1541.5 1209.0 1542.7 1216.6 1543.6 1220.9C1544.6 1225.3 1545.3 1227.9 1546.0 1229.6C1546.8 1231.4 1547.3 1232.2 1548.1 1231.2C1548.9 1230.3 1549.9 1228.7 1550.8 1224.1C1551.6 1219.5 1552.4 1211.7 1553.2 1203.5C1553.9 1195.3 1554.7 1183.4 1555.5 1175.0C1556.3 1166.5 1557.1 1158.1 1557.9 1152.8C1558.7 1147.5 1559.5 1145.2 1560.3 1143.3C1561.1 1141.3 1561.6 1140.9 1562.7 1140.9C1563.7 1140.9 1565.3 1142.6 1566.6 1143.3C1567.9 1143.9 1569.1 1144.6 1570.6 1144.9C1572.0 1145.1 1573.9 1144.3 1575.3 1144.9C1576.8 1145.4 1578.2 1144.9 1579.3 1148.0C1580.4 1151.2 1580.9 1157.8 1581.7 1163.9C1582.5 1169.9 1583.1 1177.3 1584.1 1184.5C1585.0 1191.6 1586.3 1201.1 1587.2 1206.7C1588.2 1212.2 1588.9 1215.6 1589.6 1217.8C1590.3 1219.9 1590.7 1220.1 1591.5 1219.3C1592.3 1218.6 1593.5 1216.7 1594.4 1213.0C1595.2 1209.3 1595.9 1203.5 1596.7 1197.2C1597.5 1190.8 1598.3 1181.3 1599.1 1175.0C1599.9 1168.6 1600.7 1162.5 1601.5 1159.1C1602.3 1155.7 1603.1 1154.4 1603.9 1154.4C1604.7 1154.4 1605.5 1155.7 1606.2 1159.1C1607.0 1162.5 1607.7 1168.6 1608.6 1175.0C1609.6 1181.3 1610.6 1190.8 1611.8 1197.2C1613.0 1203.5 1614.3 1209.3 1615.8 1213.0C1617.2 1216.7 1619.1 1219.1 1620.5 1219.3C1622.0 1219.6 1623.3 1217.2 1624.5 1214.6C1625.7 1211.9 1626.7 1208.5 1627.6 1203.5C1628.6 1198.5 1629.2 1192.9 1630.0 1184.5C1630.8 1176.0 1631.6 1163.3 1632.4 1152.8C1633.2 1142.2 1634.0 1130.1 1634.8 1121.1C1635.6 1112.1 1636.4 1104.2 1637.2 1098.9C1637.9 1093.6 1638.9 1091.4 1639.5 1089.4C1640.2 1087.4 1640.5 1086.7 1641.1 1087.0C1641.8 1087.3 1642.7 1087.9 1643.5 1091.0C1644.3 1094.0 1645.1 1098.6 1645.9 1105.2C1646.7 1111.8 1647.5 1121.6 1648.2 1130.6C1649.0 1139.6 1649.7 1149.6 1650.6 1159.1C1651.6 1168.6 1652.7 1179.2 1653.8 1187.6C1654.9 1196.1 1655.9 1203.5 1657.0 1209.8C1658.0 1216.2 1659.1 1221.7 1660.1 1225.7C1661.2 1229.6 1662.4 1232.0 1663.3 1233.6C1664.2 1235.2 1664.8 1236.0 1665.7 1235.2C1666.6 1234.4 1667.8 1232.8 1668.9 1228.9C1669.9 1224.9 1671.0 1217.2 1672.0 1211.4C1673.1 1205.6 1674.0 1200.1 1675.2 1194.0C1676.4 1187.9 1677.8 1180.2 1679.2 1175.0C1680.5 1169.7 1681.8 1165.6 1683.1 1162.3C1684.4 1159.0 1685.9 1156.7 1687.1 1155.2C1688.3 1153.6 1689.1 1152.4 1690.3 1152.8C1691.4 1153.2 1692.9 1154.9 1694.2 1157.5C1695.5 1160.2 1696.7 1165.9 1698.2 1168.6C1699.6 1171.4 1701.3 1174.2 1702.9 1174.2C1704.5 1174.2 1706.2 1170.6 1707.7 1168.6C1709.1 1166.6 1710.3 1163.6 1711.6 1162.3C1713.0 1161.0 1714.2 1160.2 1715.6 1160.7C1717.1 1161.2 1718.8 1162.8 1720.4 1165.5C1721.9 1168.1 1723.5 1172.1 1725.1 1176.6C1726.7 1181.0 1728.4 1186.3 1729.9 1192.4C1731.3 1198.5 1732.6 1206.1 1733.8 1213.0C1735.0 1219.9 1736.1 1228.3 1737.0 1233.6C1737.9 1238.9 1738.7 1242.6 1739.4 1244.7C1740.0 1246.8 1740.3 1247.1 1741.0 1246.3C1741.6 1245.5 1742.6 1244.4 1743.3 1239.9C1744.1 1235.5 1744.9 1228.1 1745.7 1219.3C1746.5 1210.6 1747.3 1198.7 1748.1 1187.6C1748.9 1176.6 1749.7 1164.4 1750.5 1152.8C1751.3 1141.2 1752.2 1126.4 1752.9 1117.9C1753.5 1109.5 1753.8 1105.8 1754.4 1102.1C1755.1 1098.4 1756.2 1096.9 1756.8 1095.7C1757.5 1094.5 1757.6 1094.1 1758.4 1094.9C1759.2 1095.7 1760.5 1096.9 1761.6 1100.5C1762.7 1104.0 1763.7 1109.7 1764.8 1116.3C1765.8 1122.9 1766.9 1131.9 1767.9 1140.1C1769.0 1148.3 1770.1 1157.0 1771.1 1165.5C1772.2 1173.9 1773.2 1183.4 1774.3 1190.8C1775.3 1198.2 1776.4 1205.5 1777.5 1209.8C1778.5 1214.2 1779.6 1216.4 1780.6 1217.0C1781.7 1217.5 1782.7 1215.8 1783.8 1213.0C1784.9 1210.2 1785.9 1203.8 1787.0 1200.3C1788.0 1196.9 1789.1 1194.0 1790.1 1192.4C1791.2 1190.8 1792.2 1190.4 1793.3 1190.8C1794.4 1191.2 1795.3 1192.1 1796.5 1194.8C1797.7 1197.4 1799.0 1202.6 1800.4 1206.7C1801.9 1210.8 1803.6 1215.1 1805.2 1219.3C1806.8 1223.6 1808.6 1228.6 1809.9 1232.0C1811.3 1235.5 1812.2 1238.2 1813.1 1239.9C1814.0 1241.7 1814.6 1242.9 1815.5 1242.3C1816.4 1241.8 1817.6 1241.1 1818.7 1236.8C1819.7 1232.4 1820.8 1225.4 1821.8 1216.2C1822.9 1206.9 1823.9 1193.5 1825.0 1181.3C1826.1 1169.2 1827.1 1154.4 1828.2 1143.3C1829.2 1132.2 1830.3 1122.1 1831.3 1114.7C1832.4 1107.3 1833.5 1102.6 1834.5 1098.9C1835.6 1095.2 1836.8 1093.7 1837.7 1092.5C1838.6 1091.4 1839.0 1091.2 1839.7 1091.8C1840.5 1092.3 1841.5 1092.4 1842.4 1095.7C1843.4 1099.0 1844.6 1105.2 1845.6 1111.6C1846.7 1117.9 1847.7 1126.4 1848.8 1133.8C1849.8 1141.2 1850.9 1149.3 1851.9 1155.9C1853.0 1162.5 1854.1 1169.4 1855.1 1173.4C1856.2 1177.3 1857.1 1178.1 1858.3 1179.7C1859.5 1181.3 1861.1 1181.0 1862.2 1182.9C1863.4 1184.7 1864.4 1186.1 1865.4 1190.8C1866.5 1195.6 1867.5 1203.5 1868.6 1211.4C1869.6 1219.3 1870.7 1230.4 1871.8 1238.4C1872.8 1246.3 1874.0 1254.2 1874.9 1259.0C1875.9 1263.7 1876.4 1267.2 1877.3 1266.9C1878.2 1266.6 1879.3 1262.7 1880.5 1257.4C1881.7 1252.1 1883.1 1243.1 1884.4 1235.2C1885.8 1227.3 1887.2 1218.8 1888.4 1209.8C1889.6 1200.9 1890.5 1192.9 1891.6 1181.3C1892.6 1169.7 1893.7 1153.8 1894.7 1140.1C1895.8 1126.4 1896.9 1110.8 1897.9 1098.9C1899.0 1087.0 1900.2 1075.6 1901.1 1068.8C1902.0 1061.9 1902.8 1059.9 1903.5 1057.7C1904.1 1055.4 1904.4 1055.0 1905.0 1055.3C1905.7 1055.6 1906.5 1054.9 1907.4 1059.3C1908.3 1063.6 1909.5 1072.5 1910.6 1081.5C1911.6 1090.4 1912.7 1103.4 1913.8 1113.2C1914.8 1122.9 1915.9 1131.9 1916.9 1140.1C1918.0 1148.3 1919.0 1154.9 1920.1 1162.3C1921.2 1169.7 1922.1 1178.1 1923.3 1184.5C1924.5 1190.8 1925.9 1196.9 1927.2 1200.3C1928.6 1203.8 1929.9 1205.1 1931.2 1205.1C1932.5 1205.1 1933.8 1203.2 1935.2 1200.3C1936.5 1197.4 1937.9 1190.8 1939.1 1187.6C1940.3 1184.5 1941.4 1182.5 1942.3 1181.3C1943.2 1180.1 1943.6 1179.7 1944.3 1180.5C1945.1 1181.3 1946.1 1182.0 1947.0 1186.1C1948.0 1190.2 1949.2 1198.2 1950.2 1205.1C1951.3 1211.9 1952.2 1219.9 1953.4 1227.3C1954.6 1234.7 1956.0 1243.6 1957.3 1249.5C1958.7 1255.3 1959.9 1259.2 1961.3 1262.1C1962.8 1265.0 1964.5 1266.9 1966.1 1266.9C1967.6 1266.9 1969.5 1264.8 1970.8 1262.1C1972.1 1259.5 1972.9 1255.0 1974.0 1251.0C1975.0 1247.1 1976.4 1241.3 1977.2 1238.4C1977.9 1235.5 1978.5 1234.4 1978.7 1233.6" stroke="#0000ff" stroke-width="5.5" fill="none" stroke-linejoin="bevel" stroke-linecap="butt"/>
</g>
<g font-family="'Liberation Sans', Arial, Helvetica, sans-serif" font-weight="bold" fill="#222222" stroke="#fff" stroke-width="0.4" stroke-linejoin="round" letter-spacing="1.9">
<text transform="translate(293.1 373.6) scale(0.915 1)" font-size="59.0" text-anchor="middle" letter-spacing="1.0">0</text>
<text transform="translate(588.3 373.6) scale(0.915 1)" font-size="59.0" text-anchor="middle" letter-spacing="1.0">50</text>
<text transform="translate(882.3 373.6) scale(0.915 1)" font-size="59.0" text-anchor="middle" letter-spacing="1.0">100</text>
<text transform="translate(1178.1 373.6) scale(0.915 1)" font-size="59.0" text-anchor="middle" letter-spacing="1.0">150</text>
<text transform="translate(1475.0 373.6) scale(0.915 1)" font-size="59.0" text-anchor="middle" letter-spacing="1.0">200</text>
<text transform="translate(1770.4 373.6) scale(0.915 1)" font-size="59.0" text-anchor="middle" letter-spacing="1.0">250</text>
<text transform="translate(269.8 150.4) scale(0.915 1)" font-size="59.0" text-anchor="end">0.82</text>
<text transform="translate(269.8 212.2) scale(0.915 1)" font-size="59.0" text-anchor="end">0.81</text>
<text transform="translate(269.8 271.6) scale(0.915 1)" font-size="59.0" text-anchor="end">0.8</text>
<text transform="translate(1136.0 459.3) scale(1.005 1)" font-size="63.2" text-anchor="middle" letter-spacing="0">Time (s)</text>
<text transform="translate(293.1 860.6) scale(0.915 1)" font-size="59.0" text-anchor="middle" letter-spacing="1.0">0</text>
<text transform="translate(588.3 860.6) scale(0.915 1)" font-size="59.0" text-anchor="middle" letter-spacing="1.0">50</text>
<text transform="translate(882.3 860.6) scale(0.915 1)" font-size="59.0" text-anchor="middle" letter-spacing="1.0">100</text>
<text transform="translate(1178.1 860.6) scale(0.915 1)" font-size="59.0" text-anchor="middle" letter-spacing="1.0">150</text>
<text transform="translate(1475.0 860.6) scale(0.915 1)" font-size="59.0" text-anchor="middle" letter-spacing="1.0">200</text>
<text transform="translate(1770.4 860.6) scale(0.915 1)" font-size="59.0" text-anchor="middle" letter-spacing="1.0">250</text>
<text transform="translate(269.8 637.0) scale(0.915 1)" font-size="59.0" text-anchor="end">5.2568</text>
<text transform="translate(269.8 733.5) scale(0.915 1)" font-size="59.0" text-anchor="end">5.2566</text>
<text transform="translate(1136.0 946.3) scale(1.005 1)" font-size="63.2" text-anchor="middle" letter-spacing="0">Time (s)</text>
<text transform="translate(293.1 1351.4) scale(0.915 1)" font-size="59.0" text-anchor="middle" letter-spacing="1.0">0</text>
<text transform="translate(588.3 1351.4) scale(0.915 1)" font-size="59.0" text-anchor="middle" letter-spacing="1.0">50</text>
<text transform="translate(882.3 1351.4) scale(0.915 1)" font-size="59.0" text-anchor="middle" letter-spacing="1.0">100</text>
<text transform="translate(1178.1 1351.4) scale(0.915 1)" font-size="59.0" text-anchor="middle" letter-spacing="1.0">150</text>
<text transform="translate(1475.0 1351.4) scale(0.915 1)" font-size="59.0" text-anchor="middle" letter-spacing="1.0">200</text>
<text transform="translate(1770.4 1351.4) scale(0.915 1)" font-size="59.0" text-anchor="middle" letter-spacing="1.0">250</text>
<text transform="translate(269.8 1109.2) scale(0.915 1)" font-size="59.0" text-anchor="end">0.1</text>
<text transform="translate(270.8 1156.1) scale(0.915 1)" font-size="59.0" text-anchor="end">0.05</text>
<text transform="translate(269.8 1202.5) scale(0.915 1)" font-size="59.0" text-anchor="end">0</text>
<text transform="translate(272.4 1249.7) scale(0.915 1)" font-size="59.0" text-anchor="end">-0.05</text>
<text transform="translate(1136.0 1437.1) scale(1.005 1)" font-size="63.2" text-anchor="middle" letter-spacing="0">Time (s)</text>
<text transform="translate(129.3 185.5)  rotate(-90) scale(0.955 1)" font-size="66.5" text-anchor="middle" letter-spacing="0">Current (A)</text>
<text transform="translate(65.0 672.0)  rotate(-90) scale(0.955 1)" font-size="66.5" text-anchor="middle" letter-spacing="0">B (nT)</text>
<text transform="translate(112.5 1162.5)  rotate(-90) scale(0.955 1)" font-size="66.5" text-anchor="middle" letter-spacing="0">B (nT)</text>
<text x="296.5" y="555" font-size="68" font-weight="normal" stroke="none">×</text>
<text transform="translate(342.5 546.7) scale(0.915 1)" font-size="59.0">10</text>
<text transform="translate(407.5 518.5) scale(0.915 1)" font-size="48">4</text>
</g>
<rect x="1554.6" y="483.2" width="422.2" height="77.4" fill="#fff" stroke="#303030" stroke-width="3.4"/>
<path d="M1570.0 523.4H1725.7" stroke="#0000ff" stroke-width="5.5"/>
<text transform="translate(1735.0 542.8) scale(1.050 1)" font-family="'Liberation Sans', Arial, Helvetica, sans-serif" font-weight="bold" font-size="48.0" fill="#000" stroke="#fff" stroke-width="0.4">Raw data</text>
<rect x="1476.7" y="977.0" width="500.1" height="77.0" fill="#fff" stroke="#303030" stroke-width="3.4"/>
<path d="M1492.6 1016.3H1647.7" stroke="#0000ff" stroke-width="5.5"/>
<text transform="translate(1657.3 1037.3) scale(1.064 1)" font-family="'Liberation Sans', Arial, Helvetica, sans-serif" font-weight="bold" font-size="48.0" fill="#000" stroke="#fff" stroke-width="0.4">Filtered data</text>
</g>
</svg>
</body></html>
